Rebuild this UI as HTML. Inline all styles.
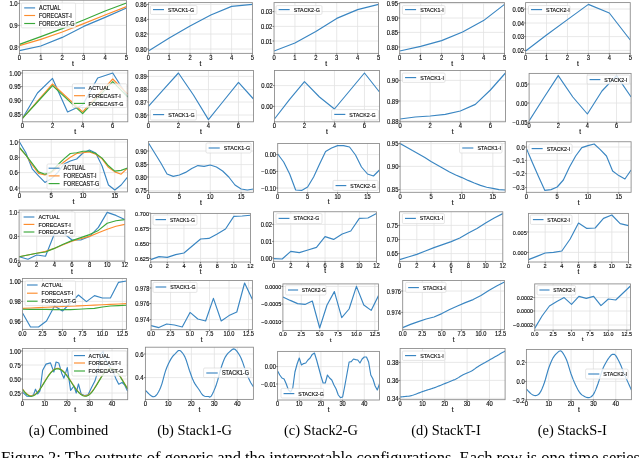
<!DOCTYPE html>
<html><head><meta charset="utf-8"><style>
html,body{margin:0;padding:0;background:#fff;width:640px;height:458px;overflow:hidden}
svg{display:block;will-change:transform}
.g{stroke:#e2e2e2;stroke-width:0.8}
.s{fill:none;stroke-width:1.15;stroke-linejoin:round;stroke-linecap:butt}
.fr{fill:none;stroke:#888888;stroke-width:0.85}
.tk{stroke:#333;stroke-width:0.6}
.lg{fill:rgba(255,255,255,0.8);stroke:#d4d4d4;stroke-width:0.6}
text{font-family:"Liberation Sans",sans-serif;fill:#111;stroke:#000;stroke-width:0.15px}
.xt{font-size:5.8px;text-anchor:middle}
.yt{font-size:5.8px;text-anchor:end}
.lt{font-size:5.3px}
.cap{font-family:"Liberation Serif",serif;font-size:14.4px;text-anchor:middle;fill:#000;stroke:none}
.fig{font-family:"Liberation Serif",serif;font-size:16.5px;fill:#000;stroke:none}
</style></head><body>
<svg width="640" height="458" viewBox="0 0 640 458">
<defs><clipPath id="c0"><rect x="19.4" y="0.25" width="107.1" height="53.1"/></clipPath><clipPath id="c1"><rect x="148.44" y="2.6" width="103.96" height="50.75"/></clipPath><clipPath id="c2"><rect x="274.04" y="2.6" width="104.46" height="50.75"/></clipPath><clipPath id="c3"><rect x="399.7" y="2.6" width="104.8" height="50.75"/></clipPath><clipPath id="c4"><rect x="525.6" y="2.6" width="104.65" height="50.75"/></clipPath><clipPath id="c5"><rect x="22.4" y="70.5" width="105.4" height="51.3"/></clipPath><clipPath id="c6"><rect x="148.4" y="70.5" width="105.1" height="51.3"/></clipPath><clipPath id="c7"><rect x="274.44" y="70.5" width="105.02" height="51.3"/></clipPath><clipPath id="c8"><rect x="400.1" y="70.5" width="105.36" height="51.3"/></clipPath><clipPath id="c9"><rect x="529.1" y="73.4" width="102" height="48.8"/></clipPath><clipPath id="c10"><rect x="19.5" y="139.46" width="108" height="52.44"/></clipPath><clipPath id="c11"><rect x="148.5" y="141.4" width="105" height="50.9"/></clipPath><clipPath id="c12"><rect x="277.7" y="143.5" width="101.76" height="49"/></clipPath><clipPath id="c13"><rect x="400.1" y="141.4" width="105.1" height="50.9"/></clipPath><clipPath id="c14"><rect x="526.4" y="141.75" width="104.7" height="50.55"/></clipPath><clipPath id="c15"><rect x="19.1" y="210.1" width="105.7" height="51.05"/></clipPath><clipPath id="c16"><rect x="150.7" y="213.4" width="99.74" height="48.6"/></clipPath><clipPath id="c17"><rect x="273.6" y="211.75" width="102.9" height="49.6"/></clipPath><clipPath id="c18"><rect x="399.6" y="211.75" width="103.2" height="49.6"/></clipPath><clipPath id="c19"><rect x="528.5" y="213.4" width="100" height="48.6"/></clipPath><clipPath id="c20"><rect x="22.53" y="278.5" width="103.87" height="50.9"/></clipPath><clipPath id="c21"><rect x="151.06" y="280.44" width="101.34" height="49.26"/></clipPath><clipPath id="c22"><rect x="282.9" y="283.9" width="95.6" height="46.5"/></clipPath><clipPath id="c23"><rect x="402.7" y="280.44" width="101.76" height="49.26"/></clipPath><clipPath id="c24"><rect x="534.7" y="283.9" width="95.74" height="46.1"/></clipPath><clipPath id="c25"><rect x="22.5" y="348.5" width="105.2" height="51.2"/></clipPath><clipPath id="c26"><rect x="145.4" y="347.2" width="108" height="52.2"/></clipPath><clipPath id="c27"><rect x="277.6" y="351.4" width="101.86" height="48.6"/></clipPath><clipPath id="c28"><rect x="400.1" y="348.5" width="105" height="51.2"/></clipPath><clipPath id="c29"><rect x="526.4" y="349.46" width="105" height="50.24"/></clipPath></defs>
<g><line x1="40.82" y1="0.25" x2="40.82" y2="53.35" class="g"/><line x1="62.24" y1="0.25" x2="62.24" y2="53.35" class="g"/><line x1="83.66" y1="0.25" x2="83.66" y2="53.35" class="g"/><line x1="105.08" y1="0.25" x2="105.08" y2="53.35" class="g"/><line x1="19.4" y1="3.4" x2="126.5" y2="3.4" class="g"/><line x1="19.4" y1="25.4" x2="126.5" y2="25.4" class="g"/><line x1="19.4" y1="47" x2="126.5" y2="47" class="g"/><g clip-path="url(#c0)"><polyline points="19.4,50.6 40.82,46 62.24,37.4 83.66,26.4 105.08,17.4 126.5,8" stroke="#3a86c2" class="s"/><polyline points="19.4,45.6 40.82,39.4 62.24,32 83.66,23.6 105.08,15 126.5,6.6" stroke="#fd8d2e" class="s"/><polyline points="19.4,44.4 40.82,36.6 62.24,28.6 83.66,20 105.08,11 126.5,3" stroke="#3aa83a" class="s"/></g><rect x="21.4" y="3.1" width="54.2" height="24.8" rx="1.2" class="lg"/><line x1="24.2" y1="7.9" x2="35.1" y2="7.9" stroke="#3a86c2" class="s"/><text x="39" y="10.06" class="lt" style="font-size:6.28px" textLength="21.53" lengthAdjust="spacingAndGlyphs">ACTUAL</text><line x1="24.2" y1="15.5" x2="35.1" y2="15.5" stroke="#fd8d2e" class="s"/><text x="39" y="17.66" class="lt" style="font-size:6.28px" textLength="32.75" lengthAdjust="spacingAndGlyphs">FORECAST-I</text><line x1="24.2" y1="23.5" x2="35.1" y2="23.5" stroke="#3aa83a" class="s"/><text x="39" y="25.66" class="lt" style="font-size:6.28px" textLength="35.48" lengthAdjust="spacingAndGlyphs">FORECAST-G</text><rect x="19.4" y="0.25" width="107.1" height="53.1" class="fr"/><line x1="19.4" y1="53.35" x2="19.4" y2="54.85" class="tk"/><text x="19.4" y="59.7" class="xt" style="font-size:6.69px" textLength="3.32" lengthAdjust="spacingAndGlyphs">0</text><line x1="40.82" y1="53.35" x2="40.82" y2="54.85" class="tk"/><text x="40.82" y="59.7" class="xt" style="font-size:6.69px" textLength="3.32" lengthAdjust="spacingAndGlyphs">1</text><line x1="62.24" y1="53.35" x2="62.24" y2="54.85" class="tk"/><text x="62.24" y="59.7" class="xt" style="font-size:6.69px" textLength="3.32" lengthAdjust="spacingAndGlyphs">2</text><line x1="83.66" y1="53.35" x2="83.66" y2="54.85" class="tk"/><text x="83.66" y="59.7" class="xt" style="font-size:6.69px" textLength="3.32" lengthAdjust="spacingAndGlyphs">3</text><line x1="105.08" y1="53.35" x2="105.08" y2="54.85" class="tk"/><text x="105.08" y="59.7" class="xt" style="font-size:6.69px" textLength="3.32" lengthAdjust="spacingAndGlyphs">4</text><line x1="126.5" y1="53.35" x2="126.5" y2="54.85" class="tk"/><text x="126.5" y="59.7" class="xt" style="font-size:6.69px" textLength="3.32" lengthAdjust="spacingAndGlyphs">5</text><line x1="17.9" y1="3.4" x2="19.4" y2="3.4" class="tk"/><text x="17.7" y="6.07" class="yt" style="font-size:6.69px" textLength="8.3" lengthAdjust="spacingAndGlyphs">1.0</text><line x1="17.9" y1="25.4" x2="19.4" y2="25.4" class="tk"/><text x="17.7" y="28.07" class="yt" style="font-size:6.69px" textLength="8.3" lengthAdjust="spacingAndGlyphs">0.9</text><line x1="17.9" y1="47" x2="19.4" y2="47" class="tk"/><text x="17.7" y="49.67" class="yt" style="font-size:6.69px" textLength="8.3" lengthAdjust="spacingAndGlyphs">0.8</text><text x="72.95" y="65.85" class="xt" style="font-size:6.8px">t</text></g>
<g><line x1="169.23" y1="2.6" x2="169.23" y2="53.35" class="g"/><line x1="190.02" y1="2.6" x2="190.02" y2="53.35" class="g"/><line x1="210.82" y1="2.6" x2="210.82" y2="53.35" class="g"/><line x1="231.61" y1="2.6" x2="231.61" y2="53.35" class="g"/><line x1="148.44" y1="4.4" x2="252.4" y2="4.4" class="g"/><line x1="148.44" y1="19.4" x2="252.4" y2="19.4" class="g"/><line x1="148.44" y1="34" x2="252.4" y2="34" class="g"/><line x1="148.44" y1="49" x2="252.4" y2="49" class="g"/><g clip-path="url(#c1)"><polyline points="148.44,51 169.23,38 190.02,26 210.82,15 231.61,6.4 252.4,4.4" stroke="#3a86c2" class="s"/></g><rect x="150.4" y="5.6" width="46.6" height="8.8" rx="1.2" class="lg"/><line x1="153" y1="9.6" x2="163.99" y2="9.6" stroke="#3a86c2" class="s"/><text x="167.99" y="11.7" class="lt" style="font-size:6.1px" textLength="26.1" lengthAdjust="spacingAndGlyphs">STACK1-G</text><rect x="148.44" y="2.6" width="103.96" height="50.75" class="fr"/><line x1="148.44" y1="53.35" x2="148.44" y2="54.85" class="tk"/><text x="148.44" y="59.55" class="xt" style="font-size:6.5px" textLength="3.22" lengthAdjust="spacingAndGlyphs">0</text><line x1="169.23" y1="53.35" x2="169.23" y2="54.85" class="tk"/><text x="169.23" y="59.55" class="xt" style="font-size:6.5px" textLength="3.22" lengthAdjust="spacingAndGlyphs">1</text><line x1="190.02" y1="53.35" x2="190.02" y2="54.85" class="tk"/><text x="190.02" y="59.55" class="xt" style="font-size:6.5px" textLength="3.22" lengthAdjust="spacingAndGlyphs">2</text><line x1="210.82" y1="53.35" x2="210.82" y2="54.85" class="tk"/><text x="210.82" y="59.55" class="xt" style="font-size:6.5px" textLength="3.22" lengthAdjust="spacingAndGlyphs">3</text><line x1="231.61" y1="53.35" x2="231.61" y2="54.85" class="tk"/><text x="231.61" y="59.55" class="xt" style="font-size:6.5px" textLength="3.22" lengthAdjust="spacingAndGlyphs">4</text><line x1="252.4" y1="53.35" x2="252.4" y2="54.85" class="tk"/><text x="252.4" y="59.55" class="xt" style="font-size:6.5px" textLength="3.22" lengthAdjust="spacingAndGlyphs">5</text><line x1="146.94" y1="4.4" x2="148.44" y2="4.4" class="tk"/><text x="146.74" y="7" class="yt" style="font-size:6.5px" textLength="11.28" lengthAdjust="spacingAndGlyphs">0.86</text><line x1="146.94" y1="19.4" x2="148.44" y2="19.4" class="tk"/><text x="146.74" y="22" class="yt" style="font-size:6.5px" textLength="11.28" lengthAdjust="spacingAndGlyphs">0.84</text><line x1="146.94" y1="34" x2="148.44" y2="34" class="tk"/><text x="146.74" y="36.6" class="yt" style="font-size:6.5px" textLength="11.28" lengthAdjust="spacingAndGlyphs">0.82</text><line x1="146.94" y1="49" x2="148.44" y2="49" class="tk"/><text x="146.74" y="51.6" class="yt" style="font-size:6.5px" textLength="11.28" lengthAdjust="spacingAndGlyphs">0.80</text><text x="200.42" y="65.55" class="xt" style="font-size:6.6px">t</text></g>
<g><line x1="294.93" y1="2.6" x2="294.93" y2="53.35" class="g"/><line x1="315.82" y1="2.6" x2="315.82" y2="53.35" class="g"/><line x1="336.72" y1="2.6" x2="336.72" y2="53.35" class="g"/><line x1="357.61" y1="2.6" x2="357.61" y2="53.35" class="g"/><line x1="274.04" y1="11.6" x2="378.5" y2="11.6" class="g"/><line x1="274.04" y1="26.4" x2="378.5" y2="26.4" class="g"/><line x1="274.04" y1="41" x2="378.5" y2="41" class="g"/><g clip-path="url(#c2)"><polyline points="274.04,51 294.93,43 315.82,31.6 336.72,18.4 357.61,9.6 378.5,4.4" stroke="#3a86c2" class="s"/></g><rect x="276" y="5.6" width="46" height="8.8" rx="1.2" class="lg"/><line x1="278.61" y1="9.6" x2="289.66" y2="9.6" stroke="#3a86c2" class="s"/><text x="293.68" y="11.71" class="lt" style="font-size:6.13px" textLength="26.23" lengthAdjust="spacingAndGlyphs">STACK2-G</text><rect x="274.04" y="2.6" width="104.46" height="50.75" class="fr"/><line x1="274.04" y1="53.35" x2="274.04" y2="54.85" class="tk"/><text x="274.04" y="59.57" class="xt" style="font-size:6.53px" textLength="3.24" lengthAdjust="spacingAndGlyphs">0</text><line x1="294.93" y1="53.35" x2="294.93" y2="54.85" class="tk"/><text x="294.93" y="59.57" class="xt" style="font-size:6.53px" textLength="3.24" lengthAdjust="spacingAndGlyphs">1</text><line x1="315.82" y1="53.35" x2="315.82" y2="54.85" class="tk"/><text x="315.82" y="59.57" class="xt" style="font-size:6.53px" textLength="3.24" lengthAdjust="spacingAndGlyphs">2</text><line x1="336.72" y1="53.35" x2="336.72" y2="54.85" class="tk"/><text x="336.72" y="59.57" class="xt" style="font-size:6.53px" textLength="3.24" lengthAdjust="spacingAndGlyphs">3</text><line x1="357.61" y1="53.35" x2="357.61" y2="54.85" class="tk"/><text x="357.61" y="59.57" class="xt" style="font-size:6.53px" textLength="3.24" lengthAdjust="spacingAndGlyphs">4</text><line x1="378.5" y1="53.35" x2="378.5" y2="54.85" class="tk"/><text x="378.5" y="59.57" class="xt" style="font-size:6.53px" textLength="3.24" lengthAdjust="spacingAndGlyphs">5</text><line x1="272.54" y1="11.6" x2="274.04" y2="11.6" class="tk"/><text x="272.34" y="14.21" class="yt" style="font-size:6.53px" textLength="11.34" lengthAdjust="spacingAndGlyphs">0.03</text><line x1="272.54" y1="26.4" x2="274.04" y2="26.4" class="tk"/><text x="272.34" y="29.01" class="yt" style="font-size:6.53px" textLength="11.34" lengthAdjust="spacingAndGlyphs">0.02</text><line x1="272.54" y1="41" x2="274.04" y2="41" class="tk"/><text x="272.34" y="43.61" class="yt" style="font-size:6.53px" textLength="11.34" lengthAdjust="spacingAndGlyphs">0.01</text><text x="326.27" y="65.59" class="xt" style="font-size:6.63px">t</text></g>
<g><line x1="420.66" y1="2.6" x2="420.66" y2="53.35" class="g"/><line x1="441.62" y1="2.6" x2="441.62" y2="53.35" class="g"/><line x1="462.58" y1="2.6" x2="462.58" y2="53.35" class="g"/><line x1="483.54" y1="2.6" x2="483.54" y2="53.35" class="g"/><line x1="399.7" y1="3.6" x2="504.5" y2="3.6" class="g"/><line x1="399.7" y1="18" x2="504.5" y2="18" class="g"/><line x1="399.7" y1="32.4" x2="504.5" y2="32.4" class="g"/><line x1="399.7" y1="47" x2="504.5" y2="47" class="g"/><g clip-path="url(#c3)"><polyline points="399.7,51 420.66,46.4 441.62,40.6 462.58,32 483.54,20.6 504.5,4.4" stroke="#3a86c2" class="s"/></g><rect x="402.4" y="5.6" width="42.6" height="8.8" rx="1.2" class="lg"/><line x1="405.02" y1="9.6" x2="416.1" y2="9.6" stroke="#3a86c2" class="s"/><text x="420.14" y="11.72" class="lt" style="font-size:6.15px" textLength="23.64" lengthAdjust="spacingAndGlyphs">STACK1-I</text><rect x="399.7" y="2.6" width="104.8" height="50.75" class="fr"/><line x1="399.7" y1="53.35" x2="399.7" y2="54.85" class="tk"/><text x="399.7" y="59.59" class="xt" style="font-size:6.55px" textLength="3.25" lengthAdjust="spacingAndGlyphs">0</text><line x1="420.66" y1="53.35" x2="420.66" y2="54.85" class="tk"/><text x="420.66" y="59.59" class="xt" style="font-size:6.55px" textLength="3.25" lengthAdjust="spacingAndGlyphs">1</text><line x1="441.62" y1="53.35" x2="441.62" y2="54.85" class="tk"/><text x="441.62" y="59.59" class="xt" style="font-size:6.55px" textLength="3.25" lengthAdjust="spacingAndGlyphs">2</text><line x1="462.58" y1="53.35" x2="462.58" y2="54.85" class="tk"/><text x="462.58" y="59.59" class="xt" style="font-size:6.55px" textLength="3.25" lengthAdjust="spacingAndGlyphs">3</text><line x1="483.54" y1="53.35" x2="483.54" y2="54.85" class="tk"/><text x="483.54" y="59.59" class="xt" style="font-size:6.55px" textLength="3.25" lengthAdjust="spacingAndGlyphs">4</text><line x1="504.5" y1="53.35" x2="504.5" y2="54.85" class="tk"/><text x="504.5" y="59.59" class="xt" style="font-size:6.55px" textLength="3.25" lengthAdjust="spacingAndGlyphs">5</text><line x1="398.2" y1="3.6" x2="399.7" y2="3.6" class="tk"/><text x="398" y="6.22" class="yt" style="font-size:6.55px" textLength="11.37" lengthAdjust="spacingAndGlyphs">0.95</text><line x1="398.2" y1="18" x2="399.7" y2="18" class="tk"/><text x="398" y="20.62" class="yt" style="font-size:6.55px" textLength="11.37" lengthAdjust="spacingAndGlyphs">0.90</text><line x1="398.2" y1="32.4" x2="399.7" y2="32.4" class="tk"/><text x="398" y="35.02" class="yt" style="font-size:6.55px" textLength="11.37" lengthAdjust="spacingAndGlyphs">0.85</text><line x1="398.2" y1="47" x2="399.7" y2="47" class="tk"/><text x="398" y="49.62" class="yt" style="font-size:6.55px" textLength="11.37" lengthAdjust="spacingAndGlyphs">0.80</text><text x="452.1" y="65.63" class="xt" style="font-size:6.65px">t</text></g>
<g><line x1="546.53" y1="2.6" x2="546.53" y2="53.35" class="g"/><line x1="567.46" y1="2.6" x2="567.46" y2="53.35" class="g"/><line x1="588.39" y1="2.6" x2="588.39" y2="53.35" class="g"/><line x1="609.32" y1="2.6" x2="609.32" y2="53.35" class="g"/><line x1="525.6" y1="9" x2="630.25" y2="9" class="g"/><line x1="525.6" y1="23" x2="630.25" y2="23" class="g"/><line x1="525.6" y1="36.6" x2="630.25" y2="36.6" class="g"/><line x1="525.6" y1="50.4" x2="630.25" y2="50.4" class="g"/><g clip-path="url(#c4)"><polyline points="525.6,51 546.53,35 567.46,19.6 588.39,4.4 609.32,13 630.25,40" stroke="#3a86c2" class="s"/></g><rect x="528.4" y="5.6" width="41.6" height="8.8" rx="1.2" class="lg"/><line x1="531.02" y1="9.6" x2="542.09" y2="9.6" stroke="#3a86c2" class="s"/><text x="546.11" y="11.71" class="lt" style="font-size:6.14px" textLength="23.61" lengthAdjust="spacingAndGlyphs">STACK2-I</text><rect x="525.6" y="2.6" width="104.65" height="50.75" class="fr"/><line x1="525.6" y1="53.35" x2="525.6" y2="54.85" class="tk"/><text x="525.6" y="59.58" class="xt" style="font-size:6.54px" textLength="3.25" lengthAdjust="spacingAndGlyphs">0</text><line x1="546.53" y1="53.35" x2="546.53" y2="54.85" class="tk"/><text x="546.53" y="59.58" class="xt" style="font-size:6.54px" textLength="3.25" lengthAdjust="spacingAndGlyphs">1</text><line x1="567.46" y1="53.35" x2="567.46" y2="54.85" class="tk"/><text x="567.46" y="59.58" class="xt" style="font-size:6.54px" textLength="3.25" lengthAdjust="spacingAndGlyphs">2</text><line x1="588.39" y1="53.35" x2="588.39" y2="54.85" class="tk"/><text x="588.39" y="59.58" class="xt" style="font-size:6.54px" textLength="3.25" lengthAdjust="spacingAndGlyphs">3</text><line x1="609.32" y1="53.35" x2="609.32" y2="54.85" class="tk"/><text x="609.32" y="59.58" class="xt" style="font-size:6.54px" textLength="3.25" lengthAdjust="spacingAndGlyphs">4</text><line x1="630.25" y1="53.35" x2="630.25" y2="54.85" class="tk"/><text x="630.25" y="59.58" class="xt" style="font-size:6.54px" textLength="3.25" lengthAdjust="spacingAndGlyphs">5</text><line x1="524.1" y1="9" x2="525.6" y2="9" class="tk"/><text x="523.9" y="11.61" class="yt" style="font-size:6.54px" textLength="11.36" lengthAdjust="spacingAndGlyphs">0.05</text><line x1="524.1" y1="23" x2="525.6" y2="23" class="tk"/><text x="523.9" y="25.61" class="yt" style="font-size:6.54px" textLength="11.36" lengthAdjust="spacingAndGlyphs">0.04</text><line x1="524.1" y1="36.6" x2="525.6" y2="36.6" class="tk"/><text x="523.9" y="39.21" class="yt" style="font-size:6.54px" textLength="11.36" lengthAdjust="spacingAndGlyphs">0.03</text><line x1="524.1" y1="50.4" x2="525.6" y2="50.4" class="tk"/><text x="523.9" y="53.01" class="yt" style="font-size:6.54px" textLength="11.36" lengthAdjust="spacingAndGlyphs">0.02</text><text x="577.92" y="65.61" class="xt" style="font-size:6.64px">t</text></g>
<g><line x1="52.51" y1="70.5" x2="52.51" y2="121.8" class="g"/><line x1="82.63" y1="70.5" x2="82.63" y2="121.8" class="g"/><line x1="112.74" y1="70.5" x2="112.74" y2="121.8" class="g"/><line x1="22.4" y1="73" x2="127.8" y2="73" class="g"/><line x1="22.4" y1="86.6" x2="127.8" y2="86.6" class="g"/><line x1="22.4" y1="100.6" x2="127.8" y2="100.6" class="g"/><line x1="22.4" y1="114.4" x2="127.8" y2="114.4" class="g"/><g clip-path="url(#c5)"><polyline points="22.4,118.4 37.46,93 52.51,78.4 67.57,112 82.63,105 97.69,78 112.74,73 127.8,97" stroke="#3a86c2" class="s"/><polyline points="22.4,118.4 37.46,101.2 52.51,84 67.57,98 82.63,112 97.69,95.4 112.74,79 127.8,94" stroke="#fd8d2e" class="s"/><polyline points="22.4,118.4 37.46,102 52.51,85.6 67.57,99.6 82.63,113.6 97.69,97.6 112.74,81.6 127.8,97" stroke="#3aa83a" class="s"/></g><rect x="72.4" y="83.8" width="54.4" height="23.8" rx="1.2" class="lg"/><line x1="74" y1="88" x2="85" y2="88" stroke="#3a86c2" class="s"/><text x="88.6" y="90.13" class="lt" style="font-size:6.18px" textLength="21.19" lengthAdjust="spacingAndGlyphs">ACTUAL</text><line x1="74" y1="95.7" x2="85" y2="95.7" stroke="#fd8d2e" class="s"/><text x="88.6" y="97.83" class="lt" style="font-size:6.18px" textLength="32.23" lengthAdjust="spacingAndGlyphs">FORECAST-I</text><line x1="74" y1="103.4" x2="85" y2="103.4" stroke="#3aa83a" class="s"/><text x="88.6" y="105.53" class="lt" style="font-size:6.18px" textLength="34.92" lengthAdjust="spacingAndGlyphs">FORECAST-G</text><rect x="22.4" y="70.5" width="105.4" height="51.3" class="fr"/><line x1="22.4" y1="121.8" x2="22.4" y2="123.3" class="tk"/><text x="22.4" y="128.07" class="xt" style="font-size:6.59px" textLength="3.27" lengthAdjust="spacingAndGlyphs">0</text><line x1="52.51" y1="121.8" x2="52.51" y2="123.3" class="tk"/><text x="52.51" y="128.07" class="xt" style="font-size:6.59px" textLength="3.27" lengthAdjust="spacingAndGlyphs">2</text><line x1="82.63" y1="121.8" x2="82.63" y2="123.3" class="tk"/><text x="82.63" y="128.07" class="xt" style="font-size:6.59px" textLength="3.27" lengthAdjust="spacingAndGlyphs">4</text><line x1="112.74" y1="121.8" x2="112.74" y2="123.3" class="tk"/><text x="112.74" y="128.07" class="xt" style="font-size:6.59px" textLength="3.27" lengthAdjust="spacingAndGlyphs">6</text><line x1="20.9" y1="73" x2="22.4" y2="73" class="tk"/><text x="20.7" y="75.63" class="yt" style="font-size:6.59px" textLength="11.44" lengthAdjust="spacingAndGlyphs">1.00</text><line x1="20.9" y1="86.6" x2="22.4" y2="86.6" class="tk"/><text x="20.7" y="89.23" class="yt" style="font-size:6.59px" textLength="11.44" lengthAdjust="spacingAndGlyphs">0.95</text><line x1="20.9" y1="100.6" x2="22.4" y2="100.6" class="tk"/><text x="20.7" y="103.23" class="yt" style="font-size:6.59px" textLength="11.44" lengthAdjust="spacingAndGlyphs">0.90</text><line x1="20.9" y1="114.4" x2="22.4" y2="114.4" class="tk"/><text x="20.7" y="117.03" class="yt" style="font-size:6.59px" textLength="11.44" lengthAdjust="spacingAndGlyphs">0.85</text><text x="75.1" y="134.13" class="xt" style="font-size:6.69px">t</text></g>
<g><line x1="178.43" y1="70.5" x2="178.43" y2="121.8" class="g"/><line x1="208.46" y1="70.5" x2="208.46" y2="121.8" class="g"/><line x1="238.49" y1="70.5" x2="238.49" y2="121.8" class="g"/><line x1="148.4" y1="76.4" x2="253.5" y2="76.4" class="g"/><line x1="148.4" y1="89.6" x2="253.5" y2="89.6" class="g"/><line x1="148.4" y1="102" x2="253.5" y2="102" class="g"/><line x1="148.4" y1="115" x2="253.5" y2="115" class="g"/><g clip-path="url(#c6)"><polyline points="148.4,106.4 163.41,89.6 178.43,73 193.44,95 208.46,119.6 223.47,101 238.49,82.4 253.5,99" stroke="#3a86c2" class="s"/></g><rect x="150.4" y="109.6" width="46" height="10.4" rx="1.2" class="lg"/><line x1="153.03" y1="114.6" x2="164.14" y2="114.6" stroke="#3a86c2" class="s"/><text x="168.19" y="116.72" class="lt" style="font-size:6.16px" textLength="26.39" lengthAdjust="spacingAndGlyphs">STACK1-G</text><rect x="148.4" y="70.5" width="105.1" height="51.3" class="fr"/><line x1="148.4" y1="121.8" x2="148.4" y2="123.3" class="tk"/><text x="148.4" y="128.05" class="xt" style="font-size:6.57px" textLength="3.26" lengthAdjust="spacingAndGlyphs">0</text><line x1="178.43" y1="121.8" x2="178.43" y2="123.3" class="tk"/><text x="178.43" y="128.05" class="xt" style="font-size:6.57px" textLength="3.26" lengthAdjust="spacingAndGlyphs">2</text><line x1="208.46" y1="121.8" x2="208.46" y2="123.3" class="tk"/><text x="208.46" y="128.05" class="xt" style="font-size:6.57px" textLength="3.26" lengthAdjust="spacingAndGlyphs">4</text><line x1="238.49" y1="121.8" x2="238.49" y2="123.3" class="tk"/><text x="238.49" y="128.05" class="xt" style="font-size:6.57px" textLength="3.26" lengthAdjust="spacingAndGlyphs">6</text><line x1="146.9" y1="76.4" x2="148.4" y2="76.4" class="tk"/><text x="146.7" y="79.02" class="yt" style="font-size:6.57px" textLength="11.41" lengthAdjust="spacingAndGlyphs">0.89</text><line x1="146.9" y1="89.6" x2="148.4" y2="89.6" class="tk"/><text x="146.7" y="92.22" class="yt" style="font-size:6.57px" textLength="11.41" lengthAdjust="spacingAndGlyphs">0.88</text><line x1="146.9" y1="102" x2="148.4" y2="102" class="tk"/><text x="146.7" y="104.62" class="yt" style="font-size:6.57px" textLength="11.41" lengthAdjust="spacingAndGlyphs">0.87</text><line x1="146.9" y1="115" x2="148.4" y2="115" class="tk"/><text x="146.7" y="117.62" class="yt" style="font-size:6.57px" textLength="11.41" lengthAdjust="spacingAndGlyphs">0.86</text><text x="200.95" y="134.11" class="xt" style="font-size:6.67px">t</text></g>
<g><line x1="304.45" y1="70.5" x2="304.45" y2="121.8" class="g"/><line x1="334.45" y1="70.5" x2="334.45" y2="121.8" class="g"/><line x1="364.46" y1="70.5" x2="364.46" y2="121.8" class="g"/><line x1="274.44" y1="85.6" x2="379.46" y2="85.6" class="g"/><line x1="274.44" y1="106.4" x2="379.46" y2="106.4" class="g"/><g clip-path="url(#c7)"><polyline points="274.44,119 289.44,99.6 304.45,81.6 319.45,97 334.45,109 349.45,91 364.46,73 379.46,92" stroke="#3a86c2" class="s"/></g><rect x="331.6" y="109.6" width="46.8" height="10.4" rx="1.2" class="lg"/><line x1="334.23" y1="114.4" x2="345.33" y2="114.4" stroke="#3a86c2" class="s"/><text x="349.37" y="116.52" class="lt" style="font-size:6.16px" textLength="26.37" lengthAdjust="spacingAndGlyphs">STACK2-G</text><rect x="274.44" y="70.5" width="105.02" height="51.3" class="fr"/><line x1="274.44" y1="121.8" x2="274.44" y2="123.3" class="tk"/><text x="274.44" y="128.05" class="xt" style="font-size:6.56px" textLength="3.26" lengthAdjust="spacingAndGlyphs">0</text><line x1="304.45" y1="121.8" x2="304.45" y2="123.3" class="tk"/><text x="304.45" y="128.05" class="xt" style="font-size:6.56px" textLength="3.26" lengthAdjust="spacingAndGlyphs">2</text><line x1="334.45" y1="121.8" x2="334.45" y2="123.3" class="tk"/><text x="334.45" y="128.05" class="xt" style="font-size:6.56px" textLength="3.26" lengthAdjust="spacingAndGlyphs">4</text><line x1="364.46" y1="121.8" x2="364.46" y2="123.3" class="tk"/><text x="364.46" y="128.05" class="xt" style="font-size:6.56px" textLength="3.26" lengthAdjust="spacingAndGlyphs">6</text><line x1="272.94" y1="85.6" x2="274.44" y2="85.6" class="tk"/><text x="272.74" y="88.22" class="yt" style="font-size:6.56px" textLength="11.4" lengthAdjust="spacingAndGlyphs">0.02</text><line x1="272.94" y1="106.4" x2="274.44" y2="106.4" class="tk"/><text x="272.74" y="109.02" class="yt" style="font-size:6.56px" textLength="11.4" lengthAdjust="spacingAndGlyphs">0.00</text><text x="326.95" y="134.1" class="xt" style="font-size:6.66px">t</text></g>
<g><line x1="430.2" y1="70.5" x2="430.2" y2="121.8" class="g"/><line x1="460.31" y1="70.5" x2="460.31" y2="121.8" class="g"/><line x1="490.41" y1="70.5" x2="490.41" y2="121.8" class="g"/><line x1="400.1" y1="80.4" x2="505.46" y2="80.4" class="g"/><line x1="400.1" y1="101" x2="505.46" y2="101" class="g"/><line x1="400.1" y1="121" x2="505.46" y2="121" class="g"/><g clip-path="url(#c8)"><polyline points="400.1,119 415.15,117 430.2,116 445.25,114.4 460.31,111 475.36,104.4 490.41,90 505.46,73" stroke="#3a86c2" class="s"/></g><rect x="402.4" y="73" width="42.6" height="9.4" rx="1.2" class="lg"/><line x1="405.03" y1="77.6" x2="416.18" y2="77.6" stroke="#3a86c2" class="s"/><text x="420.23" y="79.73" class="lt" style="font-size:6.18px" textLength="23.77" lengthAdjust="spacingAndGlyphs">STACK1-I</text><rect x="400.1" y="70.5" width="105.36" height="51.3" class="fr"/><line x1="400.1" y1="121.8" x2="400.1" y2="123.3" class="tk"/><text x="400.1" y="128.07" class="xt" style="font-size:6.58px" textLength="3.27" lengthAdjust="spacingAndGlyphs">0</text><line x1="430.2" y1="121.8" x2="430.2" y2="123.3" class="tk"/><text x="430.2" y="128.07" class="xt" style="font-size:6.58px" textLength="3.27" lengthAdjust="spacingAndGlyphs">2</text><line x1="460.31" y1="121.8" x2="460.31" y2="123.3" class="tk"/><text x="460.31" y="128.07" class="xt" style="font-size:6.58px" textLength="3.27" lengthAdjust="spacingAndGlyphs">4</text><line x1="490.41" y1="121.8" x2="490.41" y2="123.3" class="tk"/><text x="490.41" y="128.07" class="xt" style="font-size:6.58px" textLength="3.27" lengthAdjust="spacingAndGlyphs">6</text><line x1="398.6" y1="80.4" x2="400.1" y2="80.4" class="tk"/><text x="398.4" y="83.03" class="yt" style="font-size:6.58px" textLength="11.43" lengthAdjust="spacingAndGlyphs">0.90</text><line x1="398.6" y1="101" x2="400.1" y2="101" class="tk"/><text x="398.4" y="103.63" class="yt" style="font-size:6.58px" textLength="11.43" lengthAdjust="spacingAndGlyphs">0.89</text><line x1="398.6" y1="121" x2="400.1" y2="121" class="tk"/><text x="398.4" y="123.63" class="yt" style="font-size:6.58px" textLength="11.43" lengthAdjust="spacingAndGlyphs">0.88</text><text x="452.78" y="134.13" class="xt" style="font-size:6.69px">t</text></g>
<g><line x1="558.24" y1="73.4" x2="558.24" y2="122.2" class="g"/><line x1="587.39" y1="73.4" x2="587.39" y2="122.2" class="g"/><line x1="616.53" y1="73.4" x2="616.53" y2="122.2" class="g"/><line x1="529.1" y1="84" x2="631.1" y2="84" class="g"/><line x1="529.1" y1="103" x2="631.1" y2="103" class="g"/><g clip-path="url(#c9)"><polyline points="529.1,121 543.67,98 558.24,75.6 572.81,97 587.39,114 601.96,91 616.53,75.6 631.1,97" stroke="#3a86c2" class="s"/></g><rect x="587" y="75" width="42.6" height="9" rx="1.2" class="lg"/><line x1="589.55" y1="79.6" x2="600.34" y2="79.6" stroke="#3a86c2" class="s"/><text x="604.26" y="81.66" class="lt" style="font-size:5.98px" textLength="23.01" lengthAdjust="spacingAndGlyphs">STACK2-I</text><rect x="529.1" y="73.4" width="102" height="48.8" class="fr"/><line x1="529.1" y1="122.2" x2="529.1" y2="123.7" class="tk"/><text x="529.1" y="128.3" class="xt" style="font-size:6.38px" textLength="3.16" lengthAdjust="spacingAndGlyphs">0</text><line x1="558.24" y1="122.2" x2="558.24" y2="123.7" class="tk"/><text x="558.24" y="128.3" class="xt" style="font-size:6.38px" textLength="3.16" lengthAdjust="spacingAndGlyphs">2</text><line x1="587.39" y1="122.2" x2="587.39" y2="123.7" class="tk"/><text x="587.39" y="128.3" class="xt" style="font-size:6.38px" textLength="3.16" lengthAdjust="spacingAndGlyphs">4</text><line x1="616.53" y1="122.2" x2="616.53" y2="123.7" class="tk"/><text x="616.53" y="128.3" class="xt" style="font-size:6.38px" textLength="3.16" lengthAdjust="spacingAndGlyphs">6</text><line x1="527.6" y1="84" x2="529.1" y2="84" class="tk"/><text x="527.4" y="86.56" class="yt" style="font-size:6.38px" textLength="11.07" lengthAdjust="spacingAndGlyphs">0.05</text><line x1="527.6" y1="103" x2="529.1" y2="103" class="tk"/><text x="527.4" y="105.56" class="yt" style="font-size:6.38px" textLength="11.07" lengthAdjust="spacingAndGlyphs">0.00</text><line x1="527.6" y1="122" x2="529.1" y2="122" class="tk"/><text x="527.4" y="124.56" class="yt" style="font-size:6.38px" textLength="14.88" lengthAdjust="spacingAndGlyphs"><tspan style="letter-spacing:0.15px">−</tspan>0.05</text><text x="580.1" y="134.21" class="xt" style="font-size:6.47px">t</text></g>
<g><line x1="51.26" y1="139.46" x2="51.26" y2="191.9" class="g"/><line x1="83.03" y1="139.46" x2="83.03" y2="191.9" class="g"/><line x1="114.79" y1="139.46" x2="114.79" y2="191.9" class="g"/><line x1="19.5" y1="142" x2="127.5" y2="142" class="g"/><line x1="19.5" y1="157.4" x2="127.5" y2="157.4" class="g"/><line x1="19.5" y1="172.6" x2="127.5" y2="172.6" class="g"/><line x1="19.5" y1="188" x2="127.5" y2="188" class="g"/><g clip-path="url(#c10)"><polyline points="19.5,142 25.85,152.73 32.21,168.83 38.56,175.96 44.91,182.4 51.26,178.8 57.62,172.67 63.97,164 70.32,161.01 76.68,159.02 83.03,152.96 89.38,149.97 95.74,152.96 102.09,166 108.44,185.01 114.79,189.99 121.15,185.01 127.5,177.04" stroke="#3a86c2" class="s"/><polyline points="19.5,148.13 25.85,155.03 32.21,165 38.56,173.43 44.91,174.97 51.26,172.67 57.62,167.3 63.97,161.93 70.32,157.33 76.68,153.5 83.03,152.73 89.38,151.97 95.74,154.27 102.09,158.87 108.44,167.3 114.79,171.9 121.15,174.2 127.5,168.07" stroke="#fd8d2e" class="s"/><polyline points="19.5,147.37 25.85,155.03 32.21,163.47 38.56,171.9 44.91,174.2 51.26,171.9 57.62,165 63.97,158.87 70.32,153.5 76.68,152.73 83.03,151.2 89.38,151.2 95.74,153.5 102.09,158.1 108.44,165.77 114.79,171.13 121.15,170.37 127.5,168.07" stroke="#3aa83a" class="s"/></g><rect x="47" y="164" width="53" height="25" rx="1.2" class="lg"/><line x1="48.6" y1="168.2" x2="59.6" y2="168.2" stroke="#3a86c2" class="s"/><text x="63.6" y="170.38" class="lt" style="font-size:6.33px" textLength="21.71" lengthAdjust="spacingAndGlyphs">ACTUAL</text><line x1="48.6" y1="175.9" x2="59.6" y2="175.9" stroke="#fd8d2e" class="s"/><text x="63.6" y="178.08" class="lt" style="font-size:6.33px" textLength="33.03" lengthAdjust="spacingAndGlyphs">FORECAST-I</text><line x1="48.6" y1="183.6" x2="59.6" y2="183.6" stroke="#3aa83a" class="s"/><text x="63.6" y="185.78" class="lt" style="font-size:6.33px" textLength="35.78" lengthAdjust="spacingAndGlyphs">FORECAST-G</text><rect x="19.5" y="139.46" width="108" height="52.44" class="fr"/><line x1="19.5" y1="191.9" x2="19.5" y2="193.4" class="tk"/><text x="19.5" y="198.29" class="xt" style="font-size:6.75px" textLength="3.35" lengthAdjust="spacingAndGlyphs">0</text><line x1="51.26" y1="191.9" x2="51.26" y2="193.4" class="tk"/><text x="51.26" y="198.29" class="xt" style="font-size:6.75px" textLength="3.35" lengthAdjust="spacingAndGlyphs">5</text><line x1="83.03" y1="191.9" x2="83.03" y2="193.4" class="tk"/><text x="83.03" y="198.29" class="xt" style="font-size:6.75px" textLength="6.7" lengthAdjust="spacingAndGlyphs">10</text><line x1="114.79" y1="191.9" x2="114.79" y2="193.4" class="tk"/><text x="114.79" y="198.29" class="xt" style="font-size:6.75px" textLength="6.7" lengthAdjust="spacingAndGlyphs">15</text><line x1="18" y1="142" x2="19.5" y2="142" class="tk"/><text x="17.8" y="144.69" class="yt" style="font-size:6.75px" textLength="8.37" lengthAdjust="spacingAndGlyphs">1.0</text><line x1="18" y1="157.4" x2="19.5" y2="157.4" class="tk"/><text x="17.8" y="160.09" class="yt" style="font-size:6.75px" textLength="8.37" lengthAdjust="spacingAndGlyphs">0.8</text><line x1="18" y1="172.6" x2="19.5" y2="172.6" class="tk"/><text x="17.8" y="175.29" class="yt" style="font-size:6.75px" textLength="8.37" lengthAdjust="spacingAndGlyphs">0.6</text><line x1="18" y1="188" x2="19.5" y2="188" class="tk"/><text x="17.8" y="190.69" class="yt" style="font-size:6.75px" textLength="8.37" lengthAdjust="spacingAndGlyphs">0.4</text><text x="73.5" y="204.48" class="xt" style="font-size:6.85px">t</text></g>
<g><line x1="179.38" y1="141.4" x2="179.38" y2="192.3" class="g"/><line x1="210.26" y1="141.4" x2="210.26" y2="192.3" class="g"/><line x1="241.15" y1="141.4" x2="241.15" y2="192.3" class="g"/><line x1="148.5" y1="151" x2="253.5" y2="151" class="g"/><line x1="148.5" y1="164.6" x2="253.5" y2="164.6" class="g"/><line x1="148.5" y1="177" x2="253.5" y2="177" class="g"/><line x1="148.5" y1="190.6" x2="253.5" y2="190.6" class="g"/><g clip-path="url(#c11)"><polyline points="148.5,143 154.68,153 160.85,163 167.03,174 173.21,176.4 179.38,175 185.56,172.4 191.74,168.4 197.91,165.6 204.09,166.4 210.26,165 216.44,167 222.62,171 228.79,177 234.97,185 241.15,189 247.32,190 253.5,189" stroke="#3a86c2" class="s"/></g><rect x="206" y="143" width="45" height="10" rx="1.2" class="lg"/><line x1="208.62" y1="148" x2="219.73" y2="148" stroke="#3a86c2" class="s"/><text x="223.77" y="150.12" class="lt" style="font-size:6.16px" textLength="26.36" lengthAdjust="spacingAndGlyphs">STACK1-G</text><rect x="148.5" y="141.4" width="105" height="50.9" class="fr"/><line x1="148.5" y1="192.3" x2="148.5" y2="193.8" class="tk"/><text x="148.5" y="198.55" class="xt" style="font-size:6.56px" textLength="3.26" lengthAdjust="spacingAndGlyphs">0</text><line x1="179.38" y1="192.3" x2="179.38" y2="193.8" class="tk"/><text x="179.38" y="198.55" class="xt" style="font-size:6.56px" textLength="3.26" lengthAdjust="spacingAndGlyphs">5</text><line x1="210.26" y1="192.3" x2="210.26" y2="193.8" class="tk"/><text x="210.26" y="198.55" class="xt" style="font-size:6.56px" textLength="6.51" lengthAdjust="spacingAndGlyphs">10</text><line x1="241.15" y1="192.3" x2="241.15" y2="193.8" class="tk"/><text x="241.15" y="198.55" class="xt" style="font-size:6.56px" textLength="6.51" lengthAdjust="spacingAndGlyphs">15</text><line x1="147" y1="151" x2="148.5" y2="151" class="tk"/><text x="146.8" y="153.62" class="yt" style="font-size:6.56px" textLength="11.4" lengthAdjust="spacingAndGlyphs">0.90</text><line x1="147" y1="164.6" x2="148.5" y2="164.6" class="tk"/><text x="146.8" y="167.22" class="yt" style="font-size:6.56px" textLength="11.4" lengthAdjust="spacingAndGlyphs">0.85</text><line x1="147" y1="177" x2="148.5" y2="177" class="tk"/><text x="146.8" y="179.62" class="yt" style="font-size:6.56px" textLength="11.4" lengthAdjust="spacingAndGlyphs">0.80</text><line x1="147" y1="190.6" x2="148.5" y2="190.6" class="tk"/><text x="146.8" y="193.22" class="yt" style="font-size:6.56px" textLength="11.4" lengthAdjust="spacingAndGlyphs">0.75</text><text x="201" y="204.6" class="xt" style="font-size:6.66px">t</text></g>
<g><line x1="307.63" y1="143.5" x2="307.63" y2="192.5" class="g"/><line x1="337.56" y1="143.5" x2="337.56" y2="192.5" class="g"/><line x1="367.49" y1="143.5" x2="367.49" y2="192.5" class="g"/><line x1="277.7" y1="154.6" x2="379.46" y2="154.6" class="g"/><line x1="277.7" y1="171.4" x2="379.46" y2="171.4" class="g"/><line x1="277.7" y1="188" x2="379.46" y2="188" class="g"/><g clip-path="url(#c12)"><polyline points="277.7,154 283.69,162 289.67,174 295.66,190 301.64,190.4 307.63,187 313.62,177 319.6,164 325.59,151.6 331.57,148 337.56,145.6 343.54,145.6 349.53,147 355.52,155 361.5,167 367.49,174 373.47,176 379.46,170" stroke="#3a86c2" class="s"/></g><rect x="333" y="180.4" width="45" height="10" rx="1.2" class="lg"/><line x1="335.54" y1="185.6" x2="346.31" y2="185.6" stroke="#3a86c2" class="s"/><text x="350.22" y="187.65" class="lt" style="font-size:5.97px" textLength="25.55" lengthAdjust="spacingAndGlyphs">STACK2-G</text><rect x="277.7" y="143.5" width="101.76" height="49" class="fr"/><line x1="277.7" y1="192.5" x2="277.7" y2="194" class="tk"/><text x="277.7" y="198.59" class="xt" style="font-size:6.36px" textLength="3.16" lengthAdjust="spacingAndGlyphs">0</text><line x1="307.63" y1="192.5" x2="307.63" y2="194" class="tk"/><text x="307.63" y="198.59" class="xt" style="font-size:6.36px" textLength="3.16" lengthAdjust="spacingAndGlyphs">5</text><line x1="337.56" y1="192.5" x2="337.56" y2="194" class="tk"/><text x="337.56" y="198.59" class="xt" style="font-size:6.36px" textLength="6.31" lengthAdjust="spacingAndGlyphs">10</text><line x1="367.49" y1="192.5" x2="367.49" y2="194" class="tk"/><text x="367.49" y="198.59" class="xt" style="font-size:6.36px" textLength="6.31" lengthAdjust="spacingAndGlyphs">15</text><line x1="276.2" y1="154.6" x2="277.7" y2="154.6" class="tk"/><text x="276" y="157.15" class="yt" style="font-size:6.36px" textLength="11.04" lengthAdjust="spacingAndGlyphs">0.00</text><line x1="276.2" y1="171.4" x2="277.7" y2="171.4" class="tk"/><text x="276" y="173.95" class="yt" style="font-size:6.36px" textLength="14.85" lengthAdjust="spacingAndGlyphs"><tspan style="letter-spacing:0.15px">−</tspan>0.05</text><line x1="276.2" y1="188" x2="277.7" y2="188" class="tk"/><text x="276" y="190.55" class="yt" style="font-size:6.36px" textLength="14.85" lengthAdjust="spacingAndGlyphs"><tspan style="letter-spacing:0.15px">−</tspan>0.10</text><text x="328.58" y="204.48" class="xt" style="font-size:6.46px">t</text></g>
<g><line x1="431.01" y1="141.4" x2="431.01" y2="192.3" class="g"/><line x1="461.92" y1="141.4" x2="461.92" y2="192.3" class="g"/><line x1="492.84" y1="141.4" x2="492.84" y2="192.3" class="g"/><line x1="400.1" y1="143.6" x2="505.2" y2="143.6" class="g"/><line x1="400.1" y1="166.4" x2="505.2" y2="166.4" class="g"/><line x1="400.1" y1="189.6" x2="505.2" y2="189.6" class="g"/><g clip-path="url(#c13)"><polyline points="400.1,143.6 406.28,147 412.46,150.6 418.65,154 424.83,157.6 431.01,161.6 437.19,165 443.38,168.4 449.56,172 455.74,175 461.92,177.6 468.11,180.4 474.29,183 480.47,185.4 486.65,187.2 492.84,188.4 499.02,189.6 505.2,190" stroke="#3a86c2" class="s"/></g><rect x="459.6" y="143" width="42.4" height="10" rx="1.2" class="lg"/><line x1="462.23" y1="148" x2="473.34" y2="148" stroke="#3a86c2" class="s"/><text x="477.39" y="150.12" class="lt" style="font-size:6.16px" textLength="23.71" lengthAdjust="spacingAndGlyphs">STACK1-I</text><rect x="400.1" y="141.4" width="105.1" height="50.9" class="fr"/><line x1="400.1" y1="192.3" x2="400.1" y2="193.8" class="tk"/><text x="400.1" y="198.55" class="xt" style="font-size:6.57px" textLength="3.26" lengthAdjust="spacingAndGlyphs">0</text><line x1="431.01" y1="192.3" x2="431.01" y2="193.8" class="tk"/><text x="431.01" y="198.55" class="xt" style="font-size:6.57px" textLength="3.26" lengthAdjust="spacingAndGlyphs">5</text><line x1="461.92" y1="192.3" x2="461.92" y2="193.8" class="tk"/><text x="461.92" y="198.55" class="xt" style="font-size:6.57px" textLength="6.52" lengthAdjust="spacingAndGlyphs">10</text><line x1="492.84" y1="192.3" x2="492.84" y2="193.8" class="tk"/><text x="492.84" y="198.55" class="xt" style="font-size:6.57px" textLength="6.52" lengthAdjust="spacingAndGlyphs">15</text><line x1="398.6" y1="143.6" x2="400.1" y2="143.6" class="tk"/><text x="398.4" y="146.22" class="yt" style="font-size:6.57px" textLength="11.41" lengthAdjust="spacingAndGlyphs">0.95</text><line x1="398.6" y1="166.4" x2="400.1" y2="166.4" class="tk"/><text x="398.4" y="169.02" class="yt" style="font-size:6.57px" textLength="11.41" lengthAdjust="spacingAndGlyphs">0.90</text><line x1="398.6" y1="189.6" x2="400.1" y2="189.6" class="tk"/><text x="398.4" y="192.22" class="yt" style="font-size:6.57px" textLength="11.41" lengthAdjust="spacingAndGlyphs">0.85</text><text x="452.65" y="204.61" class="xt" style="font-size:6.67px">t</text></g>
<g><line x1="557.19" y1="141.75" x2="557.19" y2="192.3" class="g"/><line x1="587.99" y1="141.75" x2="587.99" y2="192.3" class="g"/><line x1="618.78" y1="141.75" x2="618.78" y2="192.3" class="g"/><line x1="526.4" y1="147" x2="631.1" y2="147" class="g"/><line x1="526.4" y1="160.4" x2="631.1" y2="160.4" class="g"/><line x1="526.4" y1="173.6" x2="631.1" y2="173.6" class="g"/><line x1="526.4" y1="187.6" x2="631.1" y2="187.6" class="g"/><g clip-path="url(#c14)"><polyline points="526.4,148.4 532.56,163 538.72,177 544.88,190.4 551.04,189.6 557.19,187 563.35,180 569.51,167 575.67,156 581.83,147.6 587.99,145.6 594.15,144 600.31,149.6 606.46,156 612.62,171 618.78,175.6 624.94,179 631.1,170" stroke="#3a86c2" class="s"/></g><rect x="529" y="144" width="43" height="9.6" rx="1.2" class="lg"/><line x1="531.62" y1="148.6" x2="542.69" y2="148.6" stroke="#3a86c2" class="s"/><text x="546.72" y="150.71" class="lt" style="font-size:6.14px" textLength="23.62" lengthAdjust="spacingAndGlyphs">STACK2-I</text><rect x="526.4" y="141.75" width="104.7" height="50.55" class="fr"/><line x1="526.4" y1="192.3" x2="526.4" y2="193.8" class="tk"/><text x="526.4" y="198.53" class="xt" style="font-size:6.54px" textLength="3.25" lengthAdjust="spacingAndGlyphs">0</text><line x1="557.19" y1="192.3" x2="557.19" y2="193.8" class="tk"/><text x="557.19" y="198.53" class="xt" style="font-size:6.54px" textLength="3.25" lengthAdjust="spacingAndGlyphs">5</text><line x1="587.99" y1="192.3" x2="587.99" y2="193.8" class="tk"/><text x="587.99" y="198.53" class="xt" style="font-size:6.54px" textLength="6.49" lengthAdjust="spacingAndGlyphs">10</text><line x1="618.78" y1="192.3" x2="618.78" y2="193.8" class="tk"/><text x="618.78" y="198.53" class="xt" style="font-size:6.54px" textLength="6.49" lengthAdjust="spacingAndGlyphs">15</text><line x1="524.9" y1="147" x2="526.4" y2="147" class="tk"/><text x="524.7" y="149.62" class="yt" style="font-size:6.54px" textLength="8.12" lengthAdjust="spacingAndGlyphs">0.0</text><line x1="524.9" y1="160.4" x2="526.4" y2="160.4" class="tk"/><text x="524.7" y="163.02" class="yt" style="font-size:6.54px" textLength="12.03" lengthAdjust="spacingAndGlyphs"><tspan style="letter-spacing:0.15px">−</tspan>0.1</text><line x1="524.9" y1="173.6" x2="526.4" y2="173.6" class="tk"/><text x="524.7" y="176.22" class="yt" style="font-size:6.54px" textLength="12.03" lengthAdjust="spacingAndGlyphs"><tspan style="letter-spacing:0.15px">−</tspan>0.2</text><line x1="524.9" y1="187.6" x2="526.4" y2="187.6" class="tk"/><text x="524.7" y="190.22" class="yt" style="font-size:6.54px" textLength="12.03" lengthAdjust="spacingAndGlyphs"><tspan style="letter-spacing:0.15px">−</tspan>0.3</text><text x="578.75" y="204.57" class="xt" style="font-size:6.64px">t</text></g>
<g><line x1="36.72" y1="210.1" x2="36.72" y2="261.15" class="g"/><line x1="54.33" y1="210.1" x2="54.33" y2="261.15" class="g"/><line x1="71.95" y1="210.1" x2="71.95" y2="261.15" class="g"/><line x1="89.57" y1="210.1" x2="89.57" y2="261.15" class="g"/><line x1="107.18" y1="210.1" x2="107.18" y2="261.15" class="g"/><line x1="19.1" y1="212.4" x2="124.8" y2="212.4" class="g"/><line x1="19.1" y1="236.4" x2="124.8" y2="236.4" class="g"/><line x1="19.1" y1="260.4" x2="124.8" y2="260.4" class="g"/><g clip-path="url(#c15)"><polyline points="19.1,256.8 27.91,259.2 36.72,255 45.53,256.2 54.33,234 63.14,232.8 71.95,240 80.76,240 89.57,236.4 98.38,227.4 107.18,212.4 115.99,215.4 124.8,219.6" stroke="#3a86c2" class="s"/><polyline points="19.1,256.8 27.91,255 36.72,253.2 45.53,251.4 54.33,248.4 63.14,244.8 71.95,241.2 80.76,238.8 89.57,236.4 98.38,232.8 107.18,229.2 115.99,226.2 124.8,224.4" stroke="#fd8d2e" class="s"/><polyline points="19.1,256.8 27.91,255 36.72,253.2 45.53,252 54.33,248.4 63.14,244.2 71.95,240.6 80.76,237.6 89.57,234.6 98.38,230.4 107.18,223.2 115.99,220.8 124.8,219.6" stroke="#3aa83a" class="s"/></g><rect x="21" y="212" width="54" height="24" rx="1.2" class="lg"/><line x1="23.6" y1="217" x2="34.4" y2="217" stroke="#3a86c2" class="s"/><text x="38.4" y="219.13" class="lt" style="font-size:6.2px" textLength="21.25" lengthAdjust="spacingAndGlyphs">ACTUAL</text><line x1="23.6" y1="224.4" x2="34.4" y2="224.4" stroke="#fd8d2e" class="s"/><text x="38.4" y="226.53" class="lt" style="font-size:6.2px" textLength="32.32" lengthAdjust="spacingAndGlyphs">FORECAST-I</text><line x1="23.6" y1="232" x2="34.4" y2="232" stroke="#3aa83a" class="s"/><text x="38.4" y="234.13" class="lt" style="font-size:6.2px" textLength="35.02" lengthAdjust="spacingAndGlyphs">FORECAST-G</text><rect x="19.1" y="210.1" width="105.7" height="51.05" class="fr"/><line x1="19.1" y1="261.15" x2="19.1" y2="262.65" class="tk"/><text x="19.1" y="267.43" class="xt" style="font-size:6.61px" textLength="3.28" lengthAdjust="spacingAndGlyphs">0</text><line x1="36.72" y1="261.15" x2="36.72" y2="262.65" class="tk"/><text x="36.72" y="267.43" class="xt" style="font-size:6.61px" textLength="3.28" lengthAdjust="spacingAndGlyphs">2</text><line x1="54.33" y1="261.15" x2="54.33" y2="262.65" class="tk"/><text x="54.33" y="267.43" class="xt" style="font-size:6.61px" textLength="3.28" lengthAdjust="spacingAndGlyphs">4</text><line x1="71.95" y1="261.15" x2="71.95" y2="262.65" class="tk"/><text x="71.95" y="267.43" class="xt" style="font-size:6.61px" textLength="3.28" lengthAdjust="spacingAndGlyphs">6</text><line x1="89.57" y1="261.15" x2="89.57" y2="262.65" class="tk"/><text x="89.57" y="267.43" class="xt" style="font-size:6.61px" textLength="3.28" lengthAdjust="spacingAndGlyphs">8</text><line x1="107.18" y1="261.15" x2="107.18" y2="262.65" class="tk"/><text x="107.18" y="267.43" class="xt" style="font-size:6.61px" textLength="6.56" lengthAdjust="spacingAndGlyphs">10</text><line x1="124.8" y1="261.15" x2="124.8" y2="262.65" class="tk"/><text x="124.8" y="267.43" class="xt" style="font-size:6.61px" textLength="6.56" lengthAdjust="spacingAndGlyphs">12</text><line x1="17.6" y1="212.4" x2="19.1" y2="212.4" class="tk"/><text x="17.4" y="215.04" class="yt" style="font-size:6.61px" textLength="8.19" lengthAdjust="spacingAndGlyphs">1.0</text><line x1="17.6" y1="236.4" x2="19.1" y2="236.4" class="tk"/><text x="17.4" y="239.04" class="yt" style="font-size:6.61px" textLength="8.19" lengthAdjust="spacingAndGlyphs">0.8</text><line x1="17.6" y1="260.4" x2="19.1" y2="260.4" class="tk"/><text x="17.4" y="263.04" class="yt" style="font-size:6.61px" textLength="8.19" lengthAdjust="spacingAndGlyphs">0.6</text><text x="71.95" y="273.51" class="xt" style="font-size:6.71px">t</text></g>
<g><line x1="167.32" y1="213.4" x2="167.32" y2="262" class="g"/><line x1="183.95" y1="213.4" x2="183.95" y2="262" class="g"/><line x1="200.57" y1="213.4" x2="200.57" y2="262" class="g"/><line x1="217.19" y1="213.4" x2="217.19" y2="262" class="g"/><line x1="233.82" y1="213.4" x2="233.82" y2="262" class="g"/><line x1="150.7" y1="228.4" x2="250.44" y2="228.4" class="g"/><line x1="150.7" y1="243.4" x2="250.44" y2="243.4" class="g"/><line x1="150.7" y1="258.4" x2="250.44" y2="258.4" class="g"/><g clip-path="url(#c16)"><polyline points="150.7,259.6 159.01,256.6 167.32,257.4 175.63,254.6 183.95,253 192.26,246 200.57,239 208.88,238.4 217.19,234 225.5,229 233.82,216.4 242.13,216 250.44,215.2" stroke="#3a86c2" class="s"/></g><rect x="153" y="215" width="44" height="10" rx="1.2" class="lg"/><line x1="155.49" y1="219.6" x2="166.04" y2="219.6" stroke="#3a86c2" class="s"/><text x="169.88" y="221.61" class="lt" style="font-size:5.85px" textLength="25.04" lengthAdjust="spacingAndGlyphs">STACK1-G</text><rect x="150.7" y="213.4" width="99.74" height="48.6" class="fr"/><line x1="150.7" y1="262" x2="150.7" y2="263.5" class="tk"/><text x="150.7" y="268" class="xt" style="font-size:6.23px" textLength="3.09" lengthAdjust="spacingAndGlyphs">0</text><line x1="167.32" y1="262" x2="167.32" y2="263.5" class="tk"/><text x="167.32" y="268" class="xt" style="font-size:6.23px" textLength="3.09" lengthAdjust="spacingAndGlyphs">2</text><line x1="183.95" y1="262" x2="183.95" y2="263.5" class="tk"/><text x="183.95" y="268" class="xt" style="font-size:6.23px" textLength="3.09" lengthAdjust="spacingAndGlyphs">4</text><line x1="200.57" y1="262" x2="200.57" y2="263.5" class="tk"/><text x="200.57" y="268" class="xt" style="font-size:6.23px" textLength="3.09" lengthAdjust="spacingAndGlyphs">6</text><line x1="217.19" y1="262" x2="217.19" y2="263.5" class="tk"/><text x="217.19" y="268" class="xt" style="font-size:6.23px" textLength="3.09" lengthAdjust="spacingAndGlyphs">8</text><line x1="233.82" y1="262" x2="233.82" y2="263.5" class="tk"/><text x="233.82" y="268" class="xt" style="font-size:6.23px" textLength="6.19" lengthAdjust="spacingAndGlyphs">10</text><line x1="250.44" y1="262" x2="250.44" y2="263.5" class="tk"/><text x="250.44" y="268" class="xt" style="font-size:6.23px" textLength="6.19" lengthAdjust="spacingAndGlyphs">12</text><line x1="149.2" y1="213" x2="150.7" y2="213" class="tk"/><text x="149" y="215.51" class="yt" style="font-size:6.23px" textLength="13.92" lengthAdjust="spacingAndGlyphs">0.700</text><line x1="149.2" y1="228.4" x2="150.7" y2="228.4" class="tk"/><text x="149" y="230.91" class="yt" style="font-size:6.23px" textLength="13.92" lengthAdjust="spacingAndGlyphs">0.675</text><line x1="149.2" y1="243.4" x2="150.7" y2="243.4" class="tk"/><text x="149" y="245.91" class="yt" style="font-size:6.23px" textLength="13.92" lengthAdjust="spacingAndGlyphs">0.650</text><line x1="149.2" y1="258.4" x2="150.7" y2="258.4" class="tk"/><text x="149" y="260.91" class="yt" style="font-size:6.23px" textLength="13.92" lengthAdjust="spacingAndGlyphs">0.625</text><text x="200.57" y="273.79" class="xt" style="font-size:6.33px">t</text></g>
<g><line x1="290.75" y1="211.75" x2="290.75" y2="261.35" class="g"/><line x1="307.9" y1="211.75" x2="307.9" y2="261.35" class="g"/><line x1="325.05" y1="211.75" x2="325.05" y2="261.35" class="g"/><line x1="342.2" y1="211.75" x2="342.2" y2="261.35" class="g"/><line x1="359.35" y1="211.75" x2="359.35" y2="261.35" class="g"/><line x1="273.6" y1="224.4" x2="376.5" y2="224.4" class="g"/><line x1="273.6" y1="241.4" x2="376.5" y2="241.4" class="g"/><line x1="273.6" y1="258" x2="376.5" y2="258" class="g"/><g clip-path="url(#c17)"><polyline points="273.6,258.6 282.18,259 290.75,251.4 299.32,252.6 307.9,250 316.48,247.4 325.05,236.6 333.62,239.4 342.2,234 350.77,231 359.35,218.4 367.93,218 376.5,213.6" stroke="#3a86c2" class="s"/></g><rect x="276" y="213.6" width="46" height="10" rx="1.2" class="lg"/><line x1="278.57" y1="218.4" x2="289.46" y2="218.4" stroke="#3a86c2" class="s"/><text x="293.41" y="220.48" class="lt" style="font-size:6.04px" textLength="25.84" lengthAdjust="spacingAndGlyphs">STACK2-G</text><rect x="273.6" y="211.75" width="102.9" height="49.6" class="fr"/><line x1="273.6" y1="261.35" x2="273.6" y2="262.85" class="tk"/><text x="273.6" y="267.5" class="xt" style="font-size:6.43px" textLength="3.19" lengthAdjust="spacingAndGlyphs">0</text><line x1="290.75" y1="261.35" x2="290.75" y2="262.85" class="tk"/><text x="290.75" y="267.5" class="xt" style="font-size:6.43px" textLength="3.19" lengthAdjust="spacingAndGlyphs">2</text><line x1="307.9" y1="261.35" x2="307.9" y2="262.85" class="tk"/><text x="307.9" y="267.5" class="xt" style="font-size:6.43px" textLength="3.19" lengthAdjust="spacingAndGlyphs">4</text><line x1="325.05" y1="261.35" x2="325.05" y2="262.85" class="tk"/><text x="325.05" y="267.5" class="xt" style="font-size:6.43px" textLength="3.19" lengthAdjust="spacingAndGlyphs">6</text><line x1="342.2" y1="261.35" x2="342.2" y2="262.85" class="tk"/><text x="342.2" y="267.5" class="xt" style="font-size:6.43px" textLength="3.19" lengthAdjust="spacingAndGlyphs">8</text><line x1="359.35" y1="261.35" x2="359.35" y2="262.85" class="tk"/><text x="359.35" y="267.5" class="xt" style="font-size:6.43px" textLength="6.38" lengthAdjust="spacingAndGlyphs">10</text><line x1="376.5" y1="261.35" x2="376.5" y2="262.85" class="tk"/><text x="376.5" y="267.5" class="xt" style="font-size:6.43px" textLength="6.38" lengthAdjust="spacingAndGlyphs">12</text><line x1="272.1" y1="224.4" x2="273.6" y2="224.4" class="tk"/><text x="271.9" y="226.98" class="yt" style="font-size:6.43px" textLength="11.17" lengthAdjust="spacingAndGlyphs">0.02</text><line x1="272.1" y1="241.4" x2="273.6" y2="241.4" class="tk"/><text x="271.9" y="243.98" class="yt" style="font-size:6.43px" textLength="11.17" lengthAdjust="spacingAndGlyphs">0.01</text><line x1="272.1" y1="258" x2="273.6" y2="258" class="tk"/><text x="271.9" y="260.58" class="yt" style="font-size:6.43px" textLength="11.17" lengthAdjust="spacingAndGlyphs">0.00</text><text x="325.05" y="273.44" class="xt" style="font-size:6.53px">t</text></g>
<g><line x1="416.8" y1="211.75" x2="416.8" y2="261.35" class="g"/><line x1="434" y1="211.75" x2="434" y2="261.35" class="g"/><line x1="451.2" y1="211.75" x2="451.2" y2="261.35" class="g"/><line x1="468.4" y1="211.75" x2="468.4" y2="261.35" class="g"/><line x1="485.6" y1="211.75" x2="485.6" y2="261.35" class="g"/><line x1="399.6" y1="225.4" x2="502.8" y2="225.4" class="g"/><line x1="399.6" y1="239.6" x2="502.8" y2="239.6" class="g"/><line x1="399.6" y1="253.6" x2="502.8" y2="253.6" class="g"/><g clip-path="url(#c18)"><polyline points="399.6,259.6 408.2,257 416.8,254.4 425.4,251 434,247.6 442.6,244.6 451.2,241.6 459.8,238 468.4,233 477,228.4 485.6,223 494.2,218 502.8,213.6" stroke="#3a86c2" class="s"/></g><rect x="402.4" y="213.6" width="42" height="10" rx="1.2" class="lg"/><line x1="404.98" y1="218.4" x2="415.9" y2="218.4" stroke="#3a86c2" class="s"/><text x="419.86" y="220.48" class="lt" style="font-size:6.05px" textLength="23.28" lengthAdjust="spacingAndGlyphs">STACK1-I</text><rect x="399.6" y="211.75" width="103.2" height="49.6" class="fr"/><line x1="399.6" y1="261.35" x2="399.6" y2="262.85" class="tk"/><text x="399.6" y="267.51" class="xt" style="font-size:6.45px" textLength="3.2" lengthAdjust="spacingAndGlyphs">0</text><line x1="416.8" y1="261.35" x2="416.8" y2="262.85" class="tk"/><text x="416.8" y="267.51" class="xt" style="font-size:6.45px" textLength="3.2" lengthAdjust="spacingAndGlyphs">2</text><line x1="434" y1="261.35" x2="434" y2="262.85" class="tk"/><text x="434" y="267.51" class="xt" style="font-size:6.45px" textLength="3.2" lengthAdjust="spacingAndGlyphs">4</text><line x1="451.2" y1="261.35" x2="451.2" y2="262.85" class="tk"/><text x="451.2" y="267.51" class="xt" style="font-size:6.45px" textLength="3.2" lengthAdjust="spacingAndGlyphs">6</text><line x1="468.4" y1="261.35" x2="468.4" y2="262.85" class="tk"/><text x="468.4" y="267.51" class="xt" style="font-size:6.45px" textLength="3.2" lengthAdjust="spacingAndGlyphs">8</text><line x1="485.6" y1="261.35" x2="485.6" y2="262.85" class="tk"/><text x="485.6" y="267.51" class="xt" style="font-size:6.45px" textLength="6.4" lengthAdjust="spacingAndGlyphs">10</text><line x1="502.8" y1="261.35" x2="502.8" y2="262.85" class="tk"/><text x="502.8" y="267.51" class="xt" style="font-size:6.45px" textLength="6.4" lengthAdjust="spacingAndGlyphs">12</text><line x1="398.1" y1="225.4" x2="399.6" y2="225.4" class="tk"/><text x="397.9" y="227.98" class="yt" style="font-size:6.45px" textLength="11.2" lengthAdjust="spacingAndGlyphs">0.75</text><line x1="398.1" y1="239.6" x2="399.6" y2="239.6" class="tk"/><text x="397.9" y="242.18" class="yt" style="font-size:6.45px" textLength="11.2" lengthAdjust="spacingAndGlyphs">0.70</text><line x1="398.1" y1="253.6" x2="399.6" y2="253.6" class="tk"/><text x="397.9" y="256.18" class="yt" style="font-size:6.45px" textLength="11.2" lengthAdjust="spacingAndGlyphs">0.65</text><text x="451.2" y="273.47" class="xt" style="font-size:6.55px">t</text></g>
<g><line x1="545.17" y1="213.4" x2="545.17" y2="262" class="g"/><line x1="561.83" y1="213.4" x2="561.83" y2="262" class="g"/><line x1="578.5" y1="213.4" x2="578.5" y2="262" class="g"/><line x1="595.17" y1="213.4" x2="595.17" y2="262" class="g"/><line x1="611.83" y1="213.4" x2="611.83" y2="262" class="g"/><line x1="528.5" y1="232" x2="628.5" y2="232" class="g"/><line x1="528.5" y1="252.4" x2="628.5" y2="252.4" class="g"/><g clip-path="url(#c19)"><polyline points="528.5,259.6 536.83,256.4 545.17,253 553.5,252.4 561.83,251 570.17,239 578.5,223 586.83,228.4 595.17,228 603.5,218.4 611.83,215 620.17,223.6 628.5,225.6" stroke="#3a86c2" class="s"/></g><rect x="530.4" y="215" width="41.6" height="9.4" rx="1.2" class="lg"/><line x1="532.9" y1="219.6" x2="543.48" y2="219.6" stroke="#3a86c2" class="s"/><text x="547.32" y="221.62" class="lt" style="font-size:5.87px" textLength="22.56" lengthAdjust="spacingAndGlyphs">STACK2-I</text><rect x="528.5" y="213.4" width="100" height="48.6" class="fr"/><line x1="528.5" y1="262" x2="528.5" y2="263.5" class="tk"/><text x="528.5" y="268.01" class="xt" style="font-size:6.25px" textLength="3.1" lengthAdjust="spacingAndGlyphs">0</text><line x1="545.17" y1="262" x2="545.17" y2="263.5" class="tk"/><text x="545.17" y="268.01" class="xt" style="font-size:6.25px" textLength="3.1" lengthAdjust="spacingAndGlyphs">2</text><line x1="561.83" y1="262" x2="561.83" y2="263.5" class="tk"/><text x="561.83" y="268.01" class="xt" style="font-size:6.25px" textLength="3.1" lengthAdjust="spacingAndGlyphs">4</text><line x1="578.5" y1="262" x2="578.5" y2="263.5" class="tk"/><text x="578.5" y="268.01" class="xt" style="font-size:6.25px" textLength="3.1" lengthAdjust="spacingAndGlyphs">6</text><line x1="595.17" y1="262" x2="595.17" y2="263.5" class="tk"/><text x="595.17" y="268.01" class="xt" style="font-size:6.25px" textLength="3.1" lengthAdjust="spacingAndGlyphs">8</text><line x1="611.83" y1="262" x2="611.83" y2="263.5" class="tk"/><text x="611.83" y="268.01" class="xt" style="font-size:6.25px" textLength="6.2" lengthAdjust="spacingAndGlyphs">10</text><line x1="628.5" y1="262" x2="628.5" y2="263.5" class="tk"/><text x="628.5" y="268.01" class="xt" style="font-size:6.25px" textLength="6.2" lengthAdjust="spacingAndGlyphs">12</text><line x1="527" y1="232" x2="528.5" y2="232" class="tk"/><text x="526.8" y="234.51" class="yt" style="font-size:6.25px" textLength="13.95" lengthAdjust="spacingAndGlyphs">0.005</text><line x1="527" y1="252.4" x2="528.5" y2="252.4" class="tk"/><text x="526.8" y="254.91" class="yt" style="font-size:6.25px" textLength="13.95" lengthAdjust="spacingAndGlyphs">0.000</text><text x="578.5" y="273.82" class="xt" style="font-size:6.35px">t</text></g>
<g><line x1="42.51" y1="278.5" x2="42.51" y2="329.4" class="g"/><line x1="62.48" y1="278.5" x2="62.48" y2="329.4" class="g"/><line x1="82.45" y1="278.5" x2="82.45" y2="329.4" class="g"/><line x1="102.43" y1="278.5" x2="102.43" y2="329.4" class="g"/><line x1="122.41" y1="278.5" x2="122.41" y2="329.4" class="g"/><line x1="22.53" y1="281.6" x2="126.4" y2="281.6" class="g"/><line x1="22.53" y1="301.4" x2="126.4" y2="301.4" class="g"/><line x1="22.53" y1="321.4" x2="126.4" y2="321.4" class="g"/><g clip-path="url(#c20)"><polyline points="22.53,313 30.52,327 38.51,327 46.5,321 54.49,306 62.48,311 70.47,303 78.46,295 86.45,301.6 94.44,295.6 102.43,298 110.42,298 118.41,282.4 126.4,281" stroke="#3a86c2" class="s"/><polyline points="22.53,308.4 30.52,308.03 38.51,307.66 46.5,307.29 54.49,306.92 62.48,306.55 70.47,306.18 78.46,305.82 86.45,305.45 94.44,305.08 102.43,304.71 110.42,304.34 118.41,303.97 126.4,303.6" stroke="#fd8d2e" class="s"/><polyline points="22.53,309.2 30.52,309.4 38.51,309.4 46.5,309.4 54.49,309.6 62.48,309.6 70.47,309.6 78.46,309.2 86.45,308.8 94.44,308.4 102.43,307 110.42,306 118.41,305.6 126.4,305.2" stroke="#3aa83a" class="s"/></g><rect x="25" y="281" width="50.6" height="24.6" rx="1.2" class="lg"/><line x1="27" y1="285" x2="37.6" y2="285" stroke="#3a86c2" class="s"/><text x="41.6" y="287.1" class="lt" style="font-size:6.09px" textLength="20.88" lengthAdjust="spacingAndGlyphs">ACTUAL</text><line x1="27" y1="293.2" x2="37.6" y2="293.2" stroke="#fd8d2e" class="s"/><text x="41.6" y="295.3" class="lt" style="font-size:6.09px" textLength="31.76" lengthAdjust="spacingAndGlyphs">FORECAST-I</text><line x1="27" y1="301.2" x2="37.6" y2="301.2" stroke="#3aa83a" class="s"/><text x="41.6" y="303.3" class="lt" style="font-size:6.09px" textLength="34.41" lengthAdjust="spacingAndGlyphs">FORECAST-G</text><rect x="22.53" y="278.5" width="103.87" height="50.9" class="fr"/><line x1="22.53" y1="329.4" x2="22.53" y2="330.9" class="tk"/><text x="22.53" y="335.59" class="xt" style="font-size:6.49px" textLength="8.05" lengthAdjust="spacingAndGlyphs">0.0</text><line x1="42.51" y1="329.4" x2="42.51" y2="330.9" class="tk"/><text x="42.51" y="335.59" class="xt" style="font-size:6.49px" textLength="8.05" lengthAdjust="spacingAndGlyphs">2.5</text><line x1="62.48" y1="329.4" x2="62.48" y2="330.9" class="tk"/><text x="62.48" y="335.59" class="xt" style="font-size:6.49px" textLength="8.05" lengthAdjust="spacingAndGlyphs">5.0</text><line x1="82.45" y1="329.4" x2="82.45" y2="330.9" class="tk"/><text x="82.45" y="335.59" class="xt" style="font-size:6.49px" textLength="8.05" lengthAdjust="spacingAndGlyphs">7.5</text><line x1="102.43" y1="329.4" x2="102.43" y2="330.9" class="tk"/><text x="102.43" y="335.59" class="xt" style="font-size:6.49px" textLength="11.27" lengthAdjust="spacingAndGlyphs">10.0</text><line x1="122.41" y1="329.4" x2="122.41" y2="330.9" class="tk"/><text x="122.41" y="335.59" class="xt" style="font-size:6.49px" textLength="11.27" lengthAdjust="spacingAndGlyphs">12.5</text><line x1="21.03" y1="281.6" x2="22.53" y2="281.6" class="tk"/><text x="20.83" y="284.2" class="yt" style="font-size:6.49px" textLength="11.27" lengthAdjust="spacingAndGlyphs">1.00</text><line x1="21.03" y1="301.4" x2="22.53" y2="301.4" class="tk"/><text x="20.83" y="304" class="yt" style="font-size:6.49px" textLength="11.27" lengthAdjust="spacingAndGlyphs">0.98</text><line x1="21.03" y1="321.4" x2="22.53" y2="321.4" class="tk"/><text x="20.83" y="324" class="yt" style="font-size:6.49px" textLength="11.27" lengthAdjust="spacingAndGlyphs">0.96</text><text x="74.47" y="341.59" class="xt" style="font-size:6.59px">t</text></g>
<g><line x1="170.55" y1="280.44" x2="170.55" y2="329.7" class="g"/><line x1="190.04" y1="280.44" x2="190.04" y2="329.7" class="g"/><line x1="209.53" y1="280.44" x2="209.53" y2="329.7" class="g"/><line x1="229.01" y1="280.44" x2="229.01" y2="329.7" class="g"/><line x1="248.5" y1="280.44" x2="248.5" y2="329.7" class="g"/><line x1="151.06" y1="288" x2="252.4" y2="288" class="g"/><line x1="151.06" y1="303.6" x2="252.4" y2="303.6" class="g"/><line x1="151.06" y1="319.6" x2="252.4" y2="319.6" class="g"/><g clip-path="url(#c21)"><polyline points="151.06,325.6 158.86,327.6 166.65,324 174.45,325 182.24,327 190.04,312.4 197.83,319 205.63,321 213.42,298.4 221.22,321 229.01,315.6 236.81,312 244.6,283 252.4,299.6" stroke="#3a86c2" class="s"/></g><rect x="153" y="282.4" width="44" height="10" rx="1.2" class="lg"/><line x1="155.53" y1="287" x2="166.25" y2="287" stroke="#3a86c2" class="s"/><text x="170.15" y="289.05" class="lt" style="font-size:5.94px" textLength="25.44" lengthAdjust="spacingAndGlyphs">STACK1-G</text><rect x="151.06" y="280.44" width="101.34" height="49.26" class="fr"/><line x1="151.06" y1="329.7" x2="151.06" y2="331.2" class="tk"/><text x="151.06" y="335.77" class="xt" style="font-size:6.33px" textLength="7.86" lengthAdjust="spacingAndGlyphs">0.0</text><line x1="170.55" y1="329.7" x2="170.55" y2="331.2" class="tk"/><text x="170.55" y="335.77" class="xt" style="font-size:6.33px" textLength="7.86" lengthAdjust="spacingAndGlyphs">2.5</text><line x1="190.04" y1="329.7" x2="190.04" y2="331.2" class="tk"/><text x="190.04" y="335.77" class="xt" style="font-size:6.33px" textLength="7.86" lengthAdjust="spacingAndGlyphs">5.0</text><line x1="209.53" y1="329.7" x2="209.53" y2="331.2" class="tk"/><text x="209.53" y="335.77" class="xt" style="font-size:6.33px" textLength="7.86" lengthAdjust="spacingAndGlyphs">7.5</text><line x1="229.01" y1="329.7" x2="229.01" y2="331.2" class="tk"/><text x="229.01" y="335.77" class="xt" style="font-size:6.33px" textLength="11" lengthAdjust="spacingAndGlyphs">10.0</text><line x1="248.5" y1="329.7" x2="248.5" y2="331.2" class="tk"/><text x="248.5" y="335.77" class="xt" style="font-size:6.33px" textLength="11" lengthAdjust="spacingAndGlyphs">12.5</text><line x1="149.56" y1="288" x2="151.06" y2="288" class="tk"/><text x="149.36" y="290.54" class="yt" style="font-size:6.33px" textLength="14.14" lengthAdjust="spacingAndGlyphs">0.978</text><line x1="149.56" y1="303.6" x2="151.06" y2="303.6" class="tk"/><text x="149.36" y="306.14" class="yt" style="font-size:6.33px" textLength="14.14" lengthAdjust="spacingAndGlyphs">0.976</text><line x1="149.56" y1="319.6" x2="151.06" y2="319.6" class="tk"/><text x="149.36" y="322.14" class="yt" style="font-size:6.33px" textLength="14.14" lengthAdjust="spacingAndGlyphs">0.974</text><text x="201.73" y="341.64" class="xt" style="font-size:6.43px">t</text></g>
<g><line x1="301.28" y1="283.9" x2="301.28" y2="330.4" class="g"/><line x1="319.67" y1="283.9" x2="319.67" y2="330.4" class="g"/><line x1="338.05" y1="283.9" x2="338.05" y2="330.4" class="g"/><line x1="356.44" y1="283.9" x2="356.44" y2="330.4" class="g"/><line x1="374.82" y1="283.9" x2="374.82" y2="330.4" class="g"/><line x1="282.9" y1="286.4" x2="378.5" y2="286.4" class="g"/><line x1="282.9" y1="304" x2="378.5" y2="304" class="g"/><line x1="282.9" y1="321.6" x2="378.5" y2="321.6" class="g"/><g clip-path="url(#c22)"><polyline points="282.9,297 290.25,300.4 297.61,303.6 304.96,304.4 312.32,301 319.67,328 327.02,305 334.38,291.6 341.73,317.6 349.08,309 356.44,286.4 363.79,305 371.15,310.4 378.5,295.6" stroke="#3a86c2" class="s"/></g><rect x="285.6" y="285" width="40.4" height="10" rx="1.2" class="lg"/><line x1="287.99" y1="290" x2="298.1" y2="290" stroke="#3a86c2" class="s"/><text x="301.78" y="291.93" class="lt" style="font-size:5.61px" textLength="24" lengthAdjust="spacingAndGlyphs">STACK2-G</text><rect x="282.9" y="283.9" width="95.6" height="46.5" class="fr"/><line x1="282.9" y1="330.4" x2="282.9" y2="331.9" class="tk"/><text x="282.9" y="336.2" class="xt" style="font-size:5.98px" textLength="7.41" lengthAdjust="spacingAndGlyphs">0.0</text><line x1="301.28" y1="330.4" x2="301.28" y2="331.9" class="tk"/><text x="301.28" y="336.2" class="xt" style="font-size:5.98px" textLength="7.41" lengthAdjust="spacingAndGlyphs">2.5</text><line x1="319.67" y1="330.4" x2="319.67" y2="331.9" class="tk"/><text x="319.67" y="336.2" class="xt" style="font-size:5.98px" textLength="7.41" lengthAdjust="spacingAndGlyphs">5.0</text><line x1="338.05" y1="330.4" x2="338.05" y2="331.9" class="tk"/><text x="338.05" y="336.2" class="xt" style="font-size:5.98px" textLength="7.41" lengthAdjust="spacingAndGlyphs">7.5</text><line x1="356.44" y1="330.4" x2="356.44" y2="331.9" class="tk"/><text x="356.44" y="336.2" class="xt" style="font-size:5.98px" textLength="10.38" lengthAdjust="spacingAndGlyphs">10.0</text><line x1="374.82" y1="330.4" x2="374.82" y2="331.9" class="tk"/><text x="374.82" y="336.2" class="xt" style="font-size:5.98px" textLength="10.38" lengthAdjust="spacingAndGlyphs">12.5</text><line x1="281.4" y1="286.4" x2="282.9" y2="286.4" class="tk"/><text x="281.2" y="288.81" class="yt" style="font-size:5.98px" textLength="16.31" lengthAdjust="spacingAndGlyphs">0.0000</text><line x1="281.4" y1="304" x2="282.9" y2="304" class="tk"/><text x="281.2" y="306.41" class="yt" style="font-size:5.98px" textLength="19.88" lengthAdjust="spacingAndGlyphs"><tspan style="letter-spacing:0.15px">−</tspan>0.0005</text><line x1="281.4" y1="321.6" x2="282.9" y2="321.6" class="tk"/><text x="281.2" y="324.01" class="yt" style="font-size:5.98px" textLength="19.88" lengthAdjust="spacingAndGlyphs"><tspan style="letter-spacing:0.15px">−</tspan>0.0010</text><text x="330.7" y="341.79" class="xt" style="font-size:6.07px">t</text></g>
<g><line x1="422.27" y1="280.44" x2="422.27" y2="329.7" class="g"/><line x1="441.84" y1="280.44" x2="441.84" y2="329.7" class="g"/><line x1="461.41" y1="280.44" x2="461.41" y2="329.7" class="g"/><line x1="480.98" y1="280.44" x2="480.98" y2="329.7" class="g"/><line x1="500.55" y1="280.44" x2="500.55" y2="329.7" class="g"/><line x1="402.7" y1="291" x2="504.46" y2="291" class="g"/><line x1="402.7" y1="312.4" x2="504.46" y2="312.4" class="g"/><g clip-path="url(#c23)"><polyline points="402.7,327.6 410.53,324.4 418.36,321.6 426.18,319 434.01,317 441.84,313.6 449.67,309.6 457.49,306 465.32,302.6 473.15,299.6 480.98,295.6 488.8,290.4 496.63,286 504.46,282" stroke="#3a86c2" class="s"/></g><rect x="405.6" y="282.4" width="40.4" height="10" rx="1.2" class="lg"/><line x1="408.14" y1="287.6" x2="418.91" y2="287.6" stroke="#3a86c2" class="s"/><text x="422.82" y="289.65" class="lt" style="font-size:5.97px" textLength="22.96" lengthAdjust="spacingAndGlyphs">STACK1-I</text><rect x="402.7" y="280.44" width="101.76" height="49.26" class="fr"/><line x1="402.7" y1="329.7" x2="402.7" y2="331.2" class="tk"/><text x="402.7" y="335.79" class="xt" style="font-size:6.36px" textLength="7.89" lengthAdjust="spacingAndGlyphs">0.0</text><line x1="422.27" y1="329.7" x2="422.27" y2="331.2" class="tk"/><text x="422.27" y="335.79" class="xt" style="font-size:6.36px" textLength="7.89" lengthAdjust="spacingAndGlyphs">2.5</text><line x1="441.84" y1="329.7" x2="441.84" y2="331.2" class="tk"/><text x="441.84" y="335.79" class="xt" style="font-size:6.36px" textLength="7.89" lengthAdjust="spacingAndGlyphs">5.0</text><line x1="461.41" y1="329.7" x2="461.41" y2="331.2" class="tk"/><text x="461.41" y="335.79" class="xt" style="font-size:6.36px" textLength="7.89" lengthAdjust="spacingAndGlyphs">7.5</text><line x1="480.98" y1="329.7" x2="480.98" y2="331.2" class="tk"/><text x="480.98" y="335.79" class="xt" style="font-size:6.36px" textLength="11.04" lengthAdjust="spacingAndGlyphs">10.0</text><line x1="500.55" y1="329.7" x2="500.55" y2="331.2" class="tk"/><text x="500.55" y="335.79" class="xt" style="font-size:6.36px" textLength="11.04" lengthAdjust="spacingAndGlyphs">12.5</text><line x1="401.2" y1="291" x2="402.7" y2="291" class="tk"/><text x="401" y="293.55" class="yt" style="font-size:6.36px" textLength="14.2" lengthAdjust="spacingAndGlyphs">0.976</text><line x1="401.2" y1="312.4" x2="402.7" y2="312.4" class="tk"/><text x="401" y="314.95" class="yt" style="font-size:6.36px" textLength="14.2" lengthAdjust="spacingAndGlyphs">0.974</text><text x="453.58" y="341.68" class="xt" style="font-size:6.46px">t</text></g>
<g><line x1="553.11" y1="283.9" x2="553.11" y2="330" class="g"/><line x1="571.52" y1="283.9" x2="571.52" y2="330" class="g"/><line x1="589.93" y1="283.9" x2="589.93" y2="330" class="g"/><line x1="608.35" y1="283.9" x2="608.35" y2="330" class="g"/><line x1="626.76" y1="283.9" x2="626.76" y2="330" class="g"/><line x1="534.7" y1="297.6" x2="630.44" y2="297.6" class="g"/><line x1="534.7" y1="311" x2="630.44" y2="311" class="g"/><line x1="534.7" y1="325" x2="630.44" y2="325" class="g"/><g clip-path="url(#c24)"><polyline points="534.7,328.4 542.06,316 549.43,306 556.79,301.6 564.16,297.6 571.52,304.4 578.89,296.4 586.25,298.4 593.62,296.4 600.98,305.6 608.35,299 615.71,300 623.08,293 630.44,286" stroke="#3a86c2" class="s"/></g><rect x="537" y="285.6" width="38.6" height="9.4" rx="1.2" class="lg"/><line x1="539.39" y1="290" x2="549.52" y2="290" stroke="#3a86c2" class="s"/><text x="553.2" y="291.93" class="lt" style="font-size:5.62px" textLength="21.6" lengthAdjust="spacingAndGlyphs">STACK2-I</text><rect x="534.7" y="283.9" width="95.74" height="46.1" class="fr"/><line x1="534.7" y1="330" x2="534.7" y2="331.5" class="tk"/><text x="534.7" y="335.8" class="xt" style="font-size:5.98px" textLength="7.42" lengthAdjust="spacingAndGlyphs">0.0</text><line x1="553.11" y1="330" x2="553.11" y2="331.5" class="tk"/><text x="553.11" y="335.8" class="xt" style="font-size:5.98px" textLength="7.42" lengthAdjust="spacingAndGlyphs">2.5</text><line x1="571.52" y1="330" x2="571.52" y2="331.5" class="tk"/><text x="571.52" y="335.8" class="xt" style="font-size:5.98px" textLength="7.42" lengthAdjust="spacingAndGlyphs">5.0</text><line x1="589.93" y1="330" x2="589.93" y2="331.5" class="tk"/><text x="589.93" y="335.8" class="xt" style="font-size:5.98px" textLength="7.42" lengthAdjust="spacingAndGlyphs">7.5</text><line x1="608.35" y1="330" x2="608.35" y2="331.5" class="tk"/><text x="608.35" y="335.8" class="xt" style="font-size:5.98px" textLength="10.39" lengthAdjust="spacingAndGlyphs">10.0</text><line x1="626.76" y1="330" x2="626.76" y2="331.5" class="tk"/><text x="626.76" y="335.8" class="xt" style="font-size:5.98px" textLength="10.39" lengthAdjust="spacingAndGlyphs">12.5</text><line x1="533.2" y1="297.6" x2="534.7" y2="297.6" class="tk"/><text x="533" y="300.02" class="yt" style="font-size:5.98px" textLength="16.33" lengthAdjust="spacingAndGlyphs">0.0002</text><line x1="533.2" y1="311" x2="534.7" y2="311" class="tk"/><text x="533" y="313.42" class="yt" style="font-size:5.98px" textLength="16.33" lengthAdjust="spacingAndGlyphs">0.0000</text><line x1="533.2" y1="325" x2="534.7" y2="325" class="tk"/><text x="533" y="327.42" class="yt" style="font-size:5.98px" textLength="19.91" lengthAdjust="spacingAndGlyphs"><tspan style="letter-spacing:0.15px">−</tspan>0.0002</text><text x="582.57" y="341.41" class="xt" style="font-size:6.08px">t</text></g>
<g><line x1="44.88" y1="348.5" x2="44.88" y2="399.7" class="g"/><line x1="67.27" y1="348.5" x2="67.27" y2="399.7" class="g"/><line x1="89.65" y1="348.5" x2="89.65" y2="399.7" class="g"/><line x1="112.03" y1="348.5" x2="112.03" y2="399.7" class="g"/><line x1="22.5" y1="351" x2="127.7" y2="351" class="g"/><line x1="22.5" y1="365" x2="127.7" y2="365" class="g"/><line x1="22.5" y1="379" x2="127.7" y2="379" class="g"/><line x1="22.5" y1="393" x2="127.7" y2="393" class="g"/><g clip-path="url(#c25)"><polyline points="22.5,392.16 26.75,396.2 31.23,396.54 33.69,394.4 35.48,389.2 37.72,393.92 39.96,390.94 42.64,370.2 46,364.14 50.48,362.92 53.84,372 56.07,362 58.76,362.92 61.89,373.78 63.91,378.16 67.27,367.6 70.62,390.4 73.98,386 76.22,393 78.46,383.94 81.14,393.92 84.5,395.6 88.08,394.8 91.44,387.8 95.02,380.8 98.15,370.2 100.39,354.5 103.08,351.36 104.65,358 107.56,363 109.79,367 112.48,370.2 116.06,379 118.75,384.2 122.1,382.52 124.79,385.16 127.48,390.94 127.7,391.2" stroke="#3a86c2" class="s"/><polyline points="22.5,388.94 23.62,390.47 24.74,391.85 25.86,393.05 26.98,394.05 28.1,394.84 29.21,395.4 30.33,395.72 31.45,395.8 32.57,395.62 33.69,395.21 34.81,394.55 35.93,393.68 37.05,392.59 38.17,391.32 39.29,389.87 40.41,388.29 41.53,386.6 42.64,384.82 43.76,383 44.88,381.16 46,379.34 47.12,377.56 48.24,375.87 49.36,374.29 50.48,372.84 51.6,371.57 52.72,370.48 53.84,369.61 54.96,368.95 56.07,368.54 57.19,368.36 58.31,368.43 59.43,368.71 60.55,369.2 61.67,369.89 62.79,370.78 63.91,371.85 65.03,373.07 66.15,374.44 67.27,375.93 68.39,377.51 69.5,379.17 70.62,380.87 71.74,382.6 72.86,384.31 73.98,385.99 75.1,387.61 76.22,389.14 77.34,390.56 78.46,391.84 79.58,392.97 80.7,393.93 81.81,394.71 82.93,395.28 84.05,395.64 85.17,395.8 86.29,395.72 87.41,395.38 88.53,394.79 89.65,393.96 90.77,392.91 91.89,391.65 93.01,390.21 94.13,388.61 95.24,386.89 96.36,385.08 97.48,383.21 98.6,381.32 99.72,379.45 100.84,377.63 101.96,375.88 103.08,374.26 104.2,372.79 105.32,371.49 106.44,370.39 107.56,369.52 108.67,368.88 109.79,368.49 110.91,368.36 112.03,368.49 113.15,368.88 114.27,369.52 115.39,370.39 116.51,371.49 117.63,372.79 118.75,374.26 119.87,375.88 120.99,377.63 122.1,379.45 123.22,381.32 124.34,383.21 125.46,385.08 126.58,386.89 127.7,388.61" stroke="#fd8d2e" class="s"/><polyline points="22.5,389.34 23.62,390.87 24.74,392.25 25.86,393.45 26.98,394.45 28.1,395.24 29.21,395.8 30.33,396.12 31.45,396.2 32.57,396.02 33.69,395.61 34.81,394.95 35.93,394.08 37.05,392.99 38.17,391.72 39.29,390.27 40.41,388.69 41.53,387 42.64,385.22 43.76,383.4 44.88,381.56 46,379.74 47.12,377.96 48.24,376.27 49.36,374.69 50.48,373.24 51.6,371.97 52.72,370.88 53.84,370.01 54.96,369.35 56.07,368.94 57.19,368.76 58.31,368.83 59.43,369.11 60.55,369.6 61.67,370.29 62.79,371.18 63.91,372.25 65.03,373.47 66.15,374.84 67.27,376.33 68.39,377.91 69.5,379.57 70.62,381.27 71.74,383 72.86,384.71 73.98,386.39 75.1,388.01 76.22,389.54 77.34,390.96 78.46,392.24 79.58,393.37 80.7,394.33 81.81,395.11 82.93,395.68 84.05,396.04 85.17,396.2 86.29,396.12 87.41,395.78 88.53,395.19 89.65,394.36 90.77,393.31 91.89,392.05 93.01,390.61 94.13,389.01 95.24,387.29 96.36,385.48 97.48,383.61 98.6,381.72 99.72,379.85 100.84,378.03 101.96,376.28 103.08,374.66 104.2,373.19 105.32,371.89 106.44,370.79 107.56,369.92 108.67,369.28 109.79,368.89 110.91,368.76 112.03,368.89 113.15,369.28 114.27,369.92 115.39,370.79 116.51,371.89 117.63,373.19 118.75,374.66 119.87,376.28 120.99,378.03 122.1,379.85 123.22,381.72 124.34,383.61 125.46,385.48 126.58,387.29 127.7,389.01" stroke="#3aa83a" class="s"/></g><rect x="72" y="351" width="54.7" height="25" rx="1.2" class="lg"/><line x1="74" y1="355.6" x2="85" y2="355.6" stroke="#3a86c2" class="s"/><text x="88.6" y="357.72" class="lt" style="font-size:6.17px" textLength="21.15" lengthAdjust="spacingAndGlyphs">ACTUAL</text><line x1="74" y1="363" x2="85" y2="363" stroke="#fd8d2e" class="s"/><text x="88.6" y="365.12" class="lt" style="font-size:6.17px" textLength="32.17" lengthAdjust="spacingAndGlyphs">FORECAST-I</text><line x1="74" y1="371" x2="85" y2="371" stroke="#3aa83a" class="s"/><text x="88.6" y="373.12" class="lt" style="font-size:6.17px" textLength="34.85" lengthAdjust="spacingAndGlyphs">FORECAST-G</text><rect x="22.5" y="348.5" width="105.2" height="51.2" class="fr"/><line x1="22.5" y1="399.7" x2="22.5" y2="401.2" class="tk"/><text x="22.5" y="405.96" class="xt" style="font-size:6.57px" textLength="3.26" lengthAdjust="spacingAndGlyphs">0</text><line x1="44.88" y1="399.7" x2="44.88" y2="401.2" class="tk"/><text x="44.88" y="405.96" class="xt" style="font-size:6.57px" textLength="6.53" lengthAdjust="spacingAndGlyphs">10</text><line x1="67.27" y1="399.7" x2="67.27" y2="401.2" class="tk"/><text x="67.27" y="405.96" class="xt" style="font-size:6.57px" textLength="6.53" lengthAdjust="spacingAndGlyphs">20</text><line x1="89.65" y1="399.7" x2="89.65" y2="401.2" class="tk"/><text x="89.65" y="405.96" class="xt" style="font-size:6.57px" textLength="6.53" lengthAdjust="spacingAndGlyphs">30</text><line x1="112.03" y1="399.7" x2="112.03" y2="401.2" class="tk"/><text x="112.03" y="405.96" class="xt" style="font-size:6.57px" textLength="6.53" lengthAdjust="spacingAndGlyphs">40</text><line x1="21" y1="351" x2="22.5" y2="351" class="tk"/><text x="20.8" y="353.63" class="yt" style="font-size:6.57px" textLength="11.42" lengthAdjust="spacingAndGlyphs">1.00</text><line x1="21" y1="365" x2="22.5" y2="365" class="tk"/><text x="20.8" y="367.63" class="yt" style="font-size:6.57px" textLength="11.42" lengthAdjust="spacingAndGlyphs">0.75</text><line x1="21" y1="379" x2="22.5" y2="379" class="tk"/><text x="20.8" y="381.63" class="yt" style="font-size:6.57px" textLength="11.42" lengthAdjust="spacingAndGlyphs">0.50</text><line x1="21" y1="393" x2="22.5" y2="393" class="tk"/><text x="20.8" y="395.63" class="yt" style="font-size:6.57px" textLength="11.42" lengthAdjust="spacingAndGlyphs">0.25</text><text x="75.1" y="412.02" class="xt" style="font-size:6.68px">t</text></g>
<g><line x1="168.38" y1="347.2" x2="168.38" y2="399.4" class="g"/><line x1="191.36" y1="347.2" x2="191.36" y2="399.4" class="g"/><line x1="214.34" y1="347.2" x2="214.34" y2="399.4" class="g"/><line x1="237.32" y1="347.2" x2="237.32" y2="399.4" class="g"/><line x1="145.4" y1="354" x2="253.4" y2="354" class="g"/><line x1="145.4" y1="377.6" x2="253.4" y2="377.6" class="g"/><g clip-path="url(#c26)"><polyline points="145.4,390.38 146.06,390.98 146.96,391.9 148.03,393 149.21,394.16 150.45,395.24 151.67,396.13 152.83,396.69 153.86,396.8 155.08,396.29 156.26,395.25 157.38,393.78 158.45,391.98 159.49,389.94 160.5,387.76 161.91,383.82 163.22,379.12 164.48,374.35 165.76,370.2 167.09,366.79 168.43,363.77 169.75,361.14 171,358.88 172.16,357.08 173.25,355.73 174.31,354.63 175.39,353.6 176.46,352.44 177.52,351.3 178.6,350.52 179.75,350.48 181.02,351.3 182.37,352.79 183.72,354.78 184.99,357.12 186.15,359.98 187.24,363.36 188.31,366.9 189.38,370.2 190.46,373.25 191.51,376.22 192.6,379.04 193.75,381.6 195.01,383.86 196.34,385.88 197.68,387.73 198.94,389.5 200.07,391.27 201.12,392.99 202.17,394.48 203.31,395.6 204.63,396.22 206.06,396.45 207.43,396.48 208.59,396.5 209.91,397.13 211.23,396.16 212.39,394.07 213.76,391.14 215.18,387.73 216.5,384.2 217.66,380.44 218.75,376.31 219.81,372.21 220.89,368.5 221.96,365.23 223.02,362.21 224.1,359.49 225.25,357.12 226.52,355.12 227.87,353.46 229.22,352.1 230.49,351 231.61,350.01 232.63,349.2 233.68,348.85 234.88,349.25 235.81,350.03 236.82,351.16 237.88,352.59 238.95,354.24 240,356.07 240.99,358 242.39,361.41 243.74,365.39 245.04,369.39 246.28,372.88 247.47,375.78 248.6,378.35 249.67,380.59 250.64,382.5 252.41,385.29 253.63,386.88" stroke="#3a86c2" class="s"/></g><rect x="203.6" y="368" width="47.4" height="9.6" rx="1.2" class="lg"/><line x1="206.3" y1="373" x2="217.72" y2="373" stroke="#3a86c2" class="s"/><text x="221.88" y="375.18" class="lt" style="font-size:6.33px" textLength="27.12" lengthAdjust="spacingAndGlyphs">STACK1-G</text><rect x="145.4" y="347.2" width="108" height="52.2" class="fr"/><line x1="145.4" y1="399.4" x2="145.4" y2="400.9" class="tk"/><text x="145.4" y="405.79" class="xt" style="font-size:6.75px" textLength="3.35" lengthAdjust="spacingAndGlyphs">0</text><line x1="168.38" y1="399.4" x2="168.38" y2="400.9" class="tk"/><text x="168.38" y="405.79" class="xt" style="font-size:6.75px" textLength="6.7" lengthAdjust="spacingAndGlyphs">10</text><line x1="191.36" y1="399.4" x2="191.36" y2="400.9" class="tk"/><text x="191.36" y="405.79" class="xt" style="font-size:6.75px" textLength="6.7" lengthAdjust="spacingAndGlyphs">20</text><line x1="214.34" y1="399.4" x2="214.34" y2="400.9" class="tk"/><text x="214.34" y="405.79" class="xt" style="font-size:6.75px" textLength="6.7" lengthAdjust="spacingAndGlyphs">30</text><line x1="237.32" y1="399.4" x2="237.32" y2="400.9" class="tk"/><text x="237.32" y="405.79" class="xt" style="font-size:6.75px" textLength="6.7" lengthAdjust="spacingAndGlyphs">40</text><line x1="143.9" y1="354" x2="145.4" y2="354" class="tk"/><text x="143.7" y="356.69" class="yt" style="font-size:6.75px" textLength="8.37" lengthAdjust="spacingAndGlyphs">0.6</text><line x1="143.9" y1="377.6" x2="145.4" y2="377.6" class="tk"/><text x="143.7" y="380.29" class="yt" style="font-size:6.75px" textLength="8.37" lengthAdjust="spacingAndGlyphs">0.4</text><text x="199.4" y="411.98" class="xt" style="font-size:6.85px">t</text></g>
<g><line x1="299.27" y1="351.4" x2="299.27" y2="400" class="g"/><line x1="320.94" y1="351.4" x2="320.94" y2="400" class="g"/><line x1="342.62" y1="351.4" x2="342.62" y2="400" class="g"/><line x1="364.29" y1="351.4" x2="364.29" y2="400" class="g"/><line x1="277.6" y1="366.6" x2="379.46" y2="366.6" class="g"/><line x1="277.6" y1="384" x2="379.46" y2="384" class="g"/><g clip-path="url(#c27)"><polyline points="277.6,371 279.77,375 281.93,378 284.1,379 286.27,384 288.44,390 290.6,392 292.77,388 294.94,372 297.11,364 299.27,358 301.44,365 303.61,363.6 305.77,363 307.94,360 310.11,358 312.28,354.4 314.44,353 316.61,360 318.78,368 320.94,376 323.11,383 325.28,383 327.45,375 329.61,378 331.78,380 333.95,385 336.12,389 338.28,395 340.45,397.6 342.62,397 344.78,386 346.95,374 349.12,362 351.29,361.6 353.45,359 355.62,359.6 357.79,360 359.96,363 362.12,359 364.29,357 366.46,357 368.62,362 370.79,375 372.96,379 375.13,386 377.29,390 379.46,384" stroke="#3a86c2" class="s"/></g><rect x="281" y="388.4" width="42.6" height="9.6" rx="1.2" class="lg"/><line x1="283.55" y1="393.6" x2="294.32" y2="393.6" stroke="#3a86c2" class="s"/><text x="298.24" y="395.66" class="lt" style="font-size:5.97px" textLength="25.57" lengthAdjust="spacingAndGlyphs">STACK2-G</text><rect x="277.6" y="351.4" width="101.86" height="48.6" class="fr"/><line x1="277.6" y1="400" x2="277.6" y2="401.5" class="tk"/><text x="277.6" y="406.1" class="xt" style="font-size:6.37px" textLength="3.16" lengthAdjust="spacingAndGlyphs">0</text><line x1="299.27" y1="400" x2="299.27" y2="401.5" class="tk"/><text x="299.27" y="406.1" class="xt" style="font-size:6.37px" textLength="6.32" lengthAdjust="spacingAndGlyphs">10</text><line x1="320.94" y1="400" x2="320.94" y2="401.5" class="tk"/><text x="320.94" y="406.1" class="xt" style="font-size:6.37px" textLength="6.32" lengthAdjust="spacingAndGlyphs">20</text><line x1="342.62" y1="400" x2="342.62" y2="401.5" class="tk"/><text x="342.62" y="406.1" class="xt" style="font-size:6.37px" textLength="6.32" lengthAdjust="spacingAndGlyphs">30</text><line x1="364.29" y1="400" x2="364.29" y2="401.5" class="tk"/><text x="364.29" y="406.1" class="xt" style="font-size:6.37px" textLength="6.32" lengthAdjust="spacingAndGlyphs">40</text><line x1="276.1" y1="366.6" x2="277.6" y2="366.6" class="tk"/><text x="275.9" y="369.15" class="yt" style="font-size:6.37px" textLength="11.06" lengthAdjust="spacingAndGlyphs">0.00</text><line x1="276.1" y1="384" x2="277.6" y2="384" class="tk"/><text x="275.9" y="386.55" class="yt" style="font-size:6.37px" textLength="14.86" lengthAdjust="spacingAndGlyphs"><tspan style="letter-spacing:0.15px">−</tspan>0.01</text><text x="328.53" y="411.99" class="xt" style="font-size:6.46px">t</text></g>
<g><line x1="422.44" y1="348.5" x2="422.44" y2="399.7" class="g"/><line x1="444.78" y1="348.5" x2="444.78" y2="399.7" class="g"/><line x1="467.12" y1="348.5" x2="467.12" y2="399.7" class="g"/><line x1="489.46" y1="348.5" x2="489.46" y2="399.7" class="g"/><line x1="400.1" y1="362.4" x2="505.1" y2="362.4" class="g"/><line x1="400.1" y1="380.4" x2="505.1" y2="380.4" class="g"/><line x1="400.1" y1="398.4" x2="505.1" y2="398.4" class="g"/><g clip-path="url(#c28)"><polyline points="400.1,397 400.76,396.93 401.62,396.85 402.63,396.76 403.76,396.67 404.99,396.55 406.27,396.41 407.57,396.26 408.86,396.07 410.1,395.85 411.27,395.6 412.39,395.3 413.5,394.96 414.62,394.58 415.74,394.17 416.86,393.74 417.97,393.3 419.09,392.85 420.21,392.42 421.32,392 422.44,391.6 423.56,391.23 424.67,390.87 425.79,390.52 426.91,390.17 428.03,389.82 429.14,389.48 430.26,389.13 431.38,388.76 432.49,388.39 433.61,388 434.73,387.59 435.84,387.17 436.96,386.75 438.08,386.31 439.2,385.86 440.31,385.41 441.43,384.96 442.55,384.51 443.66,384.05 444.78,383.6 445.92,383.15 447.09,382.68 448.27,382.22 449.46,381.75 450.65,381.27 451.8,380.81 452.93,380.34 454,379.88 455.01,379.44 455.95,379 457.3,378.3 458.43,377.62 459.44,376.96 460.42,376.31 461.46,375.66 462.65,375 463.68,374.5 464.78,374.01 465.94,373.53 467.12,373.04 468.3,372.54 469.46,372.04 470.56,371.53 471.59,371 472.78,370.29 473.82,369.58 474.8,368.85 475.81,368.09 476.94,367.28 478.29,366.4 479.23,365.83 480.24,365.24 481.31,364.61 482.44,363.97 483.6,363.31 484.78,362.65 485.97,361.98 487.16,361.31 488.32,360.65 489.46,360 490.61,359.34 491.8,358.66 493.02,357.96 494.25,357.26 495.47,356.56 496.65,355.89 497.77,355.24 498.83,354.64 499.79,354.09 500.63,353.6 502.32,352.62 503.56,351.9 504.45,351.38 505.1,351" stroke="#3a86c2" class="s"/></g><rect x="402.4" y="351" width="42.6" height="9.4" rx="1.2" class="lg"/><line x1="405.02" y1="355.6" x2="416.13" y2="355.6" stroke="#3a86c2" class="s"/><text x="420.17" y="357.72" class="lt" style="font-size:6.16px" textLength="23.69" lengthAdjust="spacingAndGlyphs">STACK1-I</text><rect x="400.1" y="348.5" width="105" height="51.2" class="fr"/><line x1="400.1" y1="399.7" x2="400.1" y2="401.2" class="tk"/><text x="400.1" y="405.95" class="xt" style="font-size:6.56px" textLength="3.26" lengthAdjust="spacingAndGlyphs">0</text><line x1="422.44" y1="399.7" x2="422.44" y2="401.2" class="tk"/><text x="422.44" y="405.95" class="xt" style="font-size:6.56px" textLength="6.51" lengthAdjust="spacingAndGlyphs">10</text><line x1="444.78" y1="399.7" x2="444.78" y2="401.2" class="tk"/><text x="444.78" y="405.95" class="xt" style="font-size:6.56px" textLength="6.51" lengthAdjust="spacingAndGlyphs">20</text><line x1="467.12" y1="399.7" x2="467.12" y2="401.2" class="tk"/><text x="467.12" y="405.95" class="xt" style="font-size:6.56px" textLength="6.51" lengthAdjust="spacingAndGlyphs">30</text><line x1="489.46" y1="399.7" x2="489.46" y2="401.2" class="tk"/><text x="489.46" y="405.95" class="xt" style="font-size:6.56px" textLength="6.51" lengthAdjust="spacingAndGlyphs">40</text><line x1="398.6" y1="362.4" x2="400.1" y2="362.4" class="tk"/><text x="398.4" y="365.02" class="yt" style="font-size:6.56px" textLength="11.4" lengthAdjust="spacingAndGlyphs">0.38</text><line x1="398.6" y1="380.4" x2="400.1" y2="380.4" class="tk"/><text x="398.4" y="383.02" class="yt" style="font-size:6.56px" textLength="11.4" lengthAdjust="spacingAndGlyphs">0.36</text><line x1="398.6" y1="398.4" x2="400.1" y2="398.4" class="tk"/><text x="398.4" y="401.02" class="yt" style="font-size:6.56px" textLength="11.4" lengthAdjust="spacingAndGlyphs">0.34</text><text x="452.6" y="412" class="xt" style="font-size:6.66px">t</text></g>
<g><line x1="548.74" y1="349.46" x2="548.74" y2="399.7" class="g"/><line x1="571.08" y1="349.46" x2="571.08" y2="399.7" class="g"/><line x1="593.42" y1="349.46" x2="593.42" y2="399.7" class="g"/><line x1="615.76" y1="349.46" x2="615.76" y2="399.7" class="g"/><line x1="526.4" y1="362.4" x2="631.4" y2="362.4" class="g"/><line x1="526.4" y1="381.4" x2="631.4" y2="381.4" class="g"/><g clip-path="url(#c29)"><polyline points="526.4,389 527.2,389.89 528.35,391.18 529.65,392.52 530.87,393.6 531.99,394.39 533.1,395.05 534.22,395.48 535.34,395.6 536.45,395.45 537.57,395.05 538.69,394.28 539.8,393 540.92,391.14 542.04,388.77 543.16,386.02 544.27,383 545.39,379.49 546.51,375.52 547.62,371.54 548.74,368 549.86,364.95 550.97,362.19 552.09,359.73 553.21,357.6 554.38,355.85 555.58,354.44 556.72,353.31 557.68,352.4 558.93,351.31 559.91,351 560.89,350.91 562.14,352 563.1,353.37 564.24,355.19 565.44,357.41 566.61,360 567.73,363.15 568.85,366.81 569.96,370.57 571.08,374 572.2,377.03 573.31,379.88 574.43,382.53 575.55,385 576.67,387.32 577.78,389.48 578.9,391.39 580.02,393 581.13,394.23 582.25,395.12 583.37,395.81 584.49,396.4 585.6,396.96 586.72,397.41 587.84,397.66 588.95,397.6 590.07,397.28 591.19,396.73 592.3,395.81 593.42,394.4 594.54,392.39 595.66,389.88 596.77,387.02 597.89,384 599.01,380.64 600.12,376.91 601.24,373.23 602.36,370 603.47,367.33 604.59,365 605.71,362.92 606.83,361 607.99,359.16 609.2,357.48 610.33,356.05 611.29,355 612.55,354.25 613.53,354.4 614.5,354.44 615.76,355.6 616.72,357.13 617.86,359.19 619.06,361.55 620.23,364 621.35,366.59 622.46,369.4 623.58,372.26 624.7,375 625.87,377.69 627.07,380.38 628.21,382.88 629.17,385 630.56,388.12 631.4,390" stroke="#3a86c2" class="s"/></g><rect x="585.6" y="369" width="42.4" height="10" rx="1.2" class="lg"/><line x1="588.23" y1="374" x2="599.33" y2="374" stroke="#3a86c2" class="s"/><text x="603.37" y="376.12" class="lt" style="font-size:6.16px" textLength="23.69" lengthAdjust="spacingAndGlyphs">STACK2-I</text><rect x="526.4" y="349.46" width="105" height="50.24" class="fr"/><line x1="526.4" y1="399.7" x2="526.4" y2="401.2" class="tk"/><text x="526.4" y="405.95" class="xt" style="font-size:6.56px" textLength="3.26" lengthAdjust="spacingAndGlyphs">0</text><line x1="548.74" y1="399.7" x2="548.74" y2="401.2" class="tk"/><text x="548.74" y="405.95" class="xt" style="font-size:6.56px" textLength="6.51" lengthAdjust="spacingAndGlyphs">10</text><line x1="571.08" y1="399.7" x2="571.08" y2="401.2" class="tk"/><text x="571.08" y="405.95" class="xt" style="font-size:6.56px" textLength="6.51" lengthAdjust="spacingAndGlyphs">20</text><line x1="593.42" y1="399.7" x2="593.42" y2="401.2" class="tk"/><text x="593.42" y="405.95" class="xt" style="font-size:6.56px" textLength="6.51" lengthAdjust="spacingAndGlyphs">30</text><line x1="615.76" y1="399.7" x2="615.76" y2="401.2" class="tk"/><text x="615.76" y="405.95" class="xt" style="font-size:6.56px" textLength="6.51" lengthAdjust="spacingAndGlyphs">40</text><line x1="524.9" y1="362.4" x2="526.4" y2="362.4" class="tk"/><text x="524.7" y="365.02" class="yt" style="font-size:6.56px" textLength="8.14" lengthAdjust="spacingAndGlyphs">0.2</text><line x1="524.9" y1="381.4" x2="526.4" y2="381.4" class="tk"/><text x="524.7" y="384.02" class="yt" style="font-size:6.56px" textLength="8.14" lengthAdjust="spacingAndGlyphs">0.0</text><line x1="524.9" y1="400" x2="526.4" y2="400" class="tk"/><text x="524.7" y="402.62" class="yt" style="font-size:6.56px" textLength="12.06" lengthAdjust="spacingAndGlyphs"><tspan style="letter-spacing:0.15px">−</tspan>0.2</text><text x="578.9" y="412" class="xt" style="font-size:6.66px">t</text></g>
<text x="68.5" y="435.2" class="cap">(a) Combined</text><text x="194.5" y="435.2" class="cap">(b) Stack1-G</text><text x="321" y="435.2" class="cap">(c) Stack2-G</text><text x="446" y="435.2" class="cap">(d) StackT-I</text><text x="572.3" y="435.2" class="cap">(e) StackS-I</text>
<text x="1" y="462.8" textLength="639" lengthAdjust="spacing" class="fig">Figure 2: The outputs of generic and the interpretable configurations. Each row is one time series</text>
</svg>
</body></html>
